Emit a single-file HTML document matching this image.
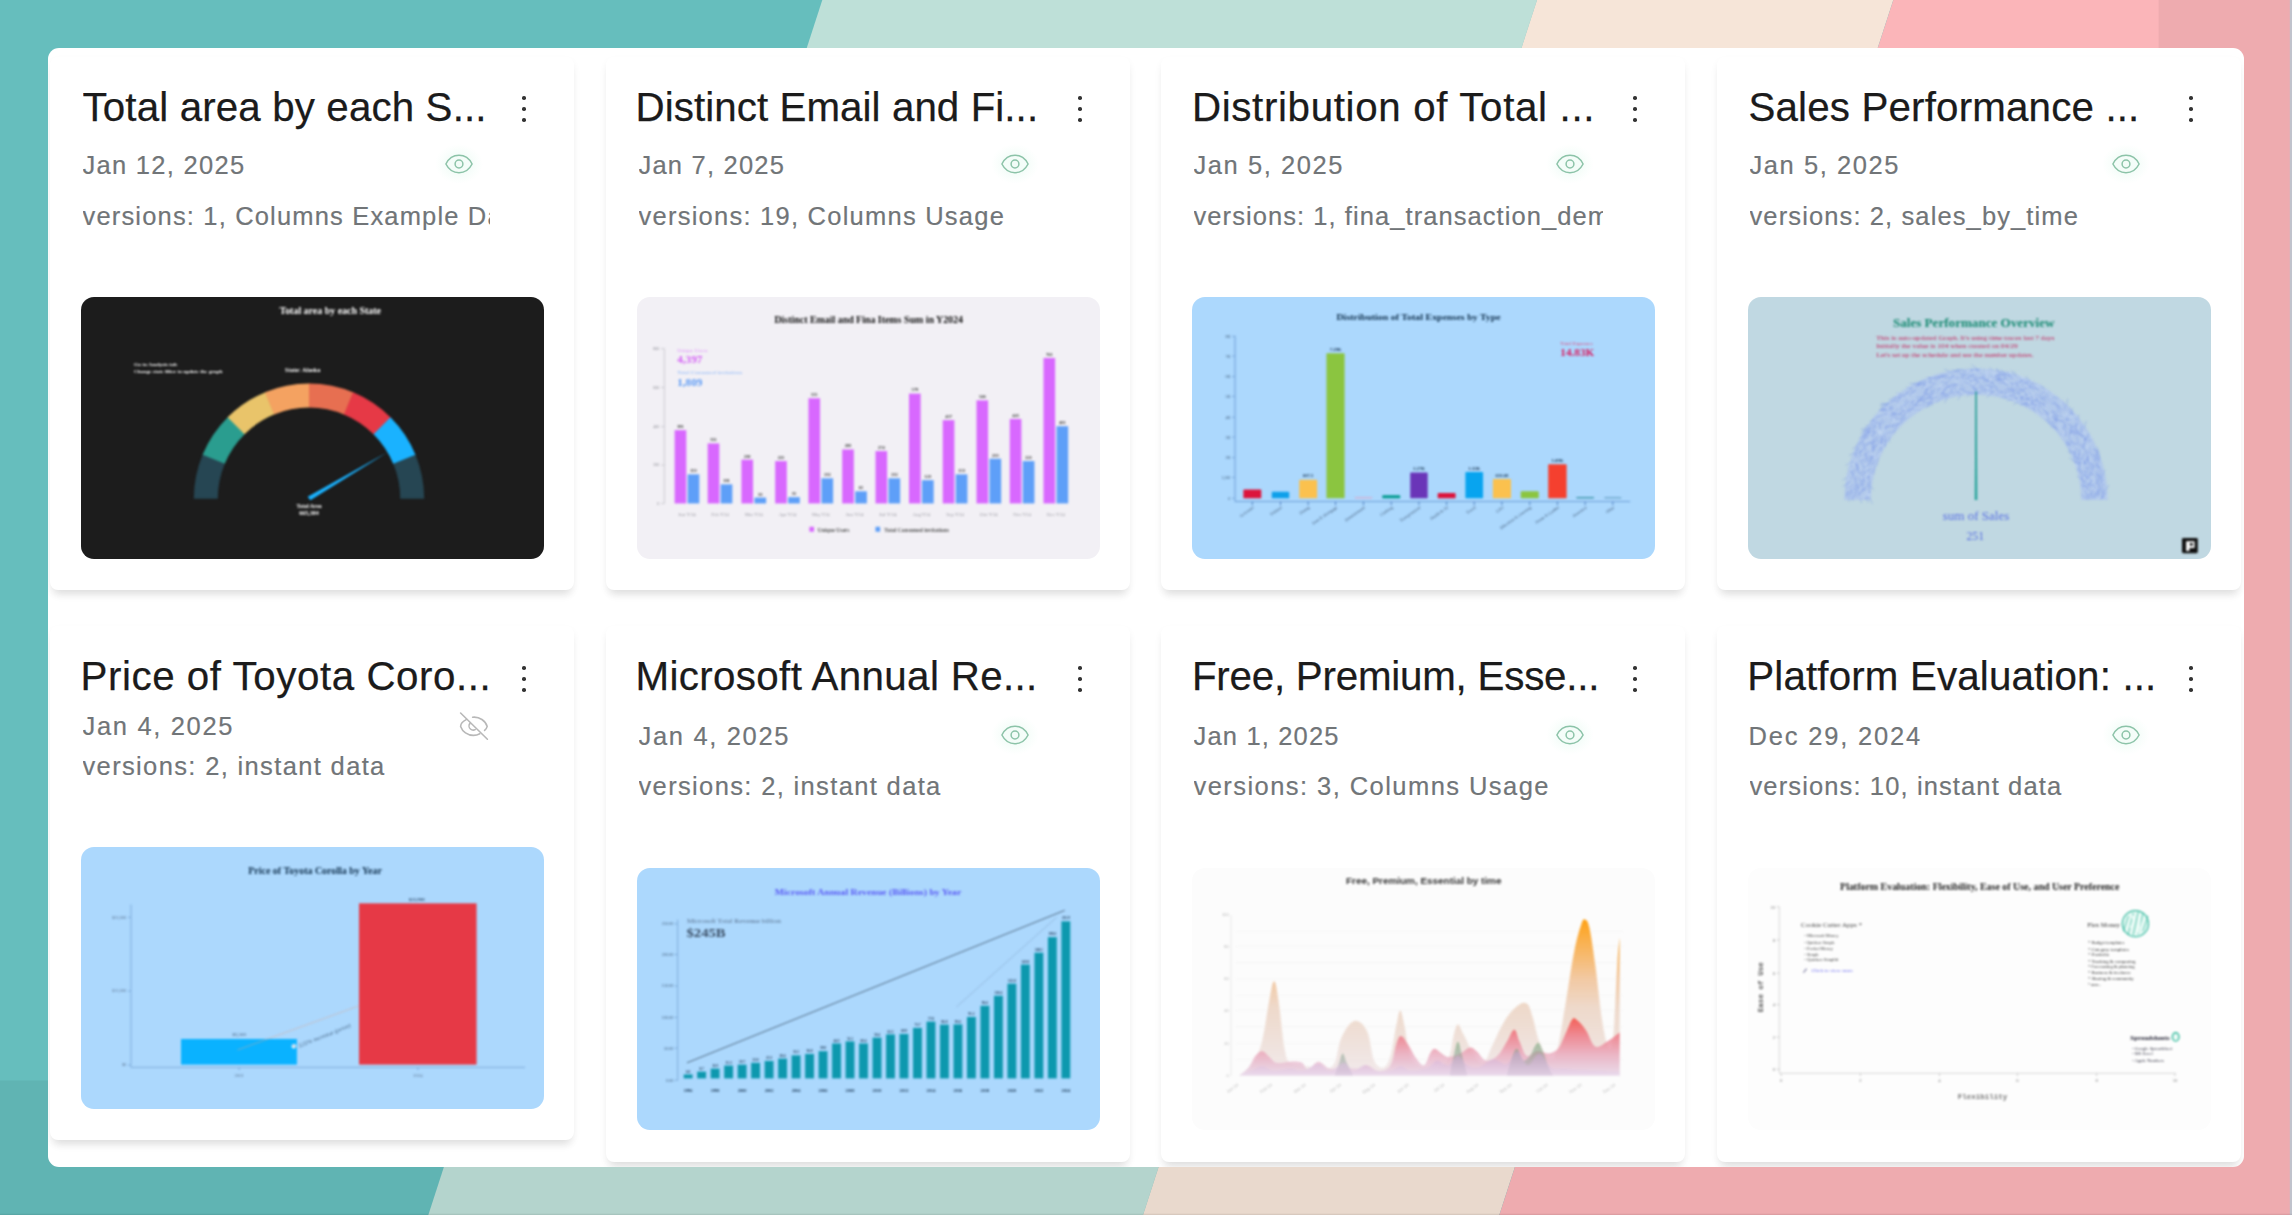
<!DOCTYPE html><html lang="en"><head><meta charset="utf-8"><title>Charts gallery</title><style>

*{box-sizing:border-box;margin:0;padding:0}
html,body{width:2292px;height:1216px;overflow:hidden;background:#66bebd}
body{position:relative;font-family:"Liberation Sans",sans-serif}
.bg{position:absolute;left:0;top:0}
.panel{position:absolute;left:48px;top:48px;width:2195.5px;height:1119px;background:#fff;border-radius:11px;overflow:hidden}
.card{position:absolute;background:#fff;border-radius:8px;box-shadow:0 9px 9px -4px rgba(0,0,0,.075),0 4px 8px -1px rgba(0,0,0,.07)}
.t{position:absolute;white-space:nowrap;overflow:hidden;line-height:60px;height:60px}
.title{font-size:39px;color:#1b1b1b;-webkit-text-stroke:.25px #1b1b1b}
.sub{font-size:24.5px;color:#717578;-webkit-text-stroke:.2px #717578}
.thumb{position:absolute;overflow:hidden;border-radius:13px}
.chart{position:absolute;display:block}
.ico{position:absolute;display:block}
.dots i{position:absolute;width:4.2px;height:4.2px;border-radius:42%;background:#333;left:.4px;margin-top:-.2px}
.dots{position:absolute;width:5px;height:30px}

</style></head><body>
<svg class="bg" width="2292" height="1216" viewBox="0 0 2292 1216"><defs><radialGradient id="halo"><stop offset="0" stop-color="#e6faf0" stop-opacity=".55"/><stop offset=".55" stop-color="#e8faf2" stop-opacity=".4"/><stop offset="1" stop-color="#eefcf5" stop-opacity="0"/></radialGradient></defs><rect width="2292" height="1216" fill="#66bebd"/><polygon points="822.3,0 1537.0,0 1142.7,1216 428.0,1216" fill="#bee0d8"/><polygon points="1537.0,0 1893.3,0 1499.0,1216 1142.7,1216" fill="#f6e5d8"/><polygon points="1893.3,0 3000.0,0 2605.7,1216 1499.0,1216" fill="#fbb5b9"/><path d="M0 1080.5H2158.6V0H2292V1216H0Z" fill="#000" fill-opacity="0.052"/><rect x="2289.8" y="0" width="2.2" height="1216" fill="#c0c3cc"/><rect x="0" y="1213.7" width="2292" height="1.3" fill="#000" fill-opacity="0.07"/><rect x="0" y="1215" width="2292" height="1" fill="#fff"/></svg>
<div class="panel"></div>
<div class="clip" style="position:absolute;left:48px;top:48px;width:2195.5px;height:1119px;overflow:hidden;border-radius:11px"><div style="position:absolute;left:-48px;top:-48px;width:2292px;height:1216px">
<div class="card" style="left:50.0px;top:57px;width:523.5px;height:533.0px"></div>
<div class="t title" style="left:82.50px;top:77.54px;font-size:40.3px;letter-spacing:0.138px">Total area by each S...</div>
<div class="t sub" style="left:82.50px;top:135.36px;font-size:25.5px;letter-spacing:1.285px">Jan 12, 2025</div>
<div class="t sub" style="left:82.50px;top:185.66px;width:407.7px;font-size:25.5px;letter-spacing:1.169px">versions: 1, Columns Example Data</div>
<svg class="ico" style="left:433.8px;top:142.9px" width="50" height="42" viewBox="0 0 50 42"><ellipse cx="25" cy="21" rx="24" ry="20" fill="url(#halo)"/><g fill="none" stroke="#8cc3a8" stroke-width="1.5" stroke-linejoin="round" style="filter:blur(.35px)"><path d="M11.9 21C14.6 15.6 19.4 12.3 25 12.3S35.4 15.6 38.1 21C35.4 26.4 30.6 29.7 25 29.7S14.6 26.4 11.9 21Z"/><circle cx="25" cy="21" r="3.9"/></g></svg>
<div class="dots" style="left:521.90px;top:96.30px"><i style="top:0.00px"></i><i style="top:10.90px"></i><i style="top:22.00px"></i></div>
<div class="card" style="left:606.0px;top:57px;width:523.5px;height:533.0px"></div>
<div class="t title" style="left:635.50px;top:77.54px;font-size:40.3px;letter-spacing:0.076px">Distinct Email and Fi...</div>
<div class="t sub" style="left:638.50px;top:135.36px;font-size:25.5px;letter-spacing:1.212px">Jan 7, 2025</div>
<div class="t sub" style="left:638.50px;top:185.66px;font-size:25.5px;letter-spacing:1.243px">versions: 19, Columns Usage</div>
<svg class="ico" style="left:989.8px;top:142.9px" width="50" height="42" viewBox="0 0 50 42"><ellipse cx="25" cy="21" rx="24" ry="20" fill="url(#halo)"/><g fill="none" stroke="#8cc3a8" stroke-width="1.5" stroke-linejoin="round" style="filter:blur(.35px)"><path d="M11.9 21C14.6 15.6 19.4 12.3 25 12.3S35.4 15.6 38.1 21C35.4 26.4 30.6 29.7 25 29.7S14.6 26.4 11.9 21Z"/><circle cx="25" cy="21" r="3.9"/></g></svg>
<div class="dots" style="left:1077.90px;top:96.30px"><i style="top:0.00px"></i><i style="top:10.90px"></i><i style="top:22.00px"></i></div>
<div class="card" style="left:1161.0px;top:57px;width:523.5px;height:533.0px"></div>
<div class="t title" style="left:1191.90px;top:77.54px;font-size:40.3px;letter-spacing:0.660px">Distribution of Total ...</div>
<div class="t sub" style="left:1193.50px;top:135.36px;font-size:25.5px;letter-spacing:1.572px">Jan 5, 2025</div>
<div class="t sub" style="left:1193.50px;top:185.66px;width:409px;font-size:25.5px;letter-spacing:1.068px">versions: 1, fina_transaction_demo</div>
<svg class="ico" style="left:1544.8px;top:142.9px" width="50" height="42" viewBox="0 0 50 42"><ellipse cx="25" cy="21" rx="24" ry="20" fill="url(#halo)"/><g fill="none" stroke="#8cc3a8" stroke-width="1.5" stroke-linejoin="round" style="filter:blur(.35px)"><path d="M11.9 21C14.6 15.6 19.4 12.3 25 12.3S35.4 15.6 38.1 21C35.4 26.4 30.6 29.7 25 29.7S14.6 26.4 11.9 21Z"/><circle cx="25" cy="21" r="3.9"/></g></svg>
<div class="dots" style="left:1632.90px;top:96.30px"><i style="top:0.00px"></i><i style="top:10.90px"></i><i style="top:22.00px"></i></div>
<div class="card" style="left:1717.0px;top:57px;width:523.5px;height:533.0px"></div>
<div class="t title" style="left:1748.50px;top:77.54px;font-size:40.3px;letter-spacing:0.167px">Sales Performance ...</div>
<div class="t sub" style="left:1749.50px;top:135.36px;font-size:25.5px;letter-spacing:1.572px">Jan 5, 2025</div>
<div class="t sub" style="left:1749.50px;top:185.66px;font-size:25.5px;letter-spacing:1.117px">versions: 2, sales_by_time</div>
<svg class="ico" style="left:2100.8px;top:142.9px" width="50" height="42" viewBox="0 0 50 42"><ellipse cx="25" cy="21" rx="24" ry="20" fill="url(#halo)"/><g fill="none" stroke="#8cc3a8" stroke-width="1.5" stroke-linejoin="round" style="filter:blur(.35px)"><path d="M11.9 21C14.6 15.6 19.4 12.3 25 12.3S35.4 15.6 38.1 21C35.4 26.4 30.6 29.7 25 29.7S14.6 26.4 11.9 21Z"/><circle cx="25" cy="21" r="3.9"/></g></svg>
<div class="dots" style="left:2188.90px;top:96.30px"><i style="top:0.00px"></i><i style="top:10.90px"></i><i style="top:22.00px"></i></div>
<div class="card" style="left:50.0px;top:626px;width:523.5px;height:514.2px"></div>
<div class="t title" style="left:80.50px;top:646.84px;font-size:40.3px;letter-spacing:0.557px">Price of Toyota Coro...</div>
<div class="t sub" style="left:82.50px;top:695.56px;font-size:25.5px;letter-spacing:1.672px">Jan 4, 2025</div>
<div class="t sub" style="left:82.50px;top:735.96px;font-size:25.5px;letter-spacing:1.353px">versions: 2, instant data</div>
<svg class="ico" style="left:458.4px;top:710.7px" width="32" height="30" viewBox="0 0 32 30"><g fill="none" stroke="#b8b8b8" stroke-width="1.6" stroke-linecap="round"><path d="M2.6 2L29.4 28.2"/><path d="M8.6 8.4C4.6 10.4 2.6 13.2 2.6 15.4C4.4 20.6 9.6 24.4 15.4 24.4C17.8 24.4 20 23.8 21.8 22.8"/><path d="M14.6 6.2C21.6 5.4 27.6 10 29.2 15.4C28.8 17 27.8 18.4 26.6 19.4"/><path d="M12 12.4C10.6 14 10.8 16.6 12.4 18C13.8 19.2 15.8 19.4 17.2 18.6"/></g></svg>
<div class="dots" style="left:521.90px;top:666.30px"><i style="top:0.00px"></i><i style="top:10.80px"></i><i style="top:22.00px"></i></div>
<div class="card" style="left:606.0px;top:626px;width:523.5px;height:536.4px"></div>
<div class="t title" style="left:635.50px;top:646.84px;font-size:40.3px;letter-spacing:0.362px">Microsoft Annual Re...</div>
<div class="t sub" style="left:638.50px;top:706.46px;font-size:25.5px;letter-spacing:1.672px">Jan 4, 2025</div>
<div class="t sub" style="left:638.50px;top:756.36px;font-size:25.5px;letter-spacing:1.353px">versions: 2, instant data</div>
<svg class="ico" style="left:989.8px;top:713.6px" width="50" height="42" viewBox="0 0 50 42"><ellipse cx="25" cy="21" rx="24" ry="20" fill="url(#halo)"/><g fill="none" stroke="#8cc3a8" stroke-width="1.5" stroke-linejoin="round" style="filter:blur(.35px)"><path d="M11.9 21C14.6 15.6 19.4 12.3 25 12.3S35.4 15.6 38.1 21C35.4 26.4 30.6 29.7 25 29.7S14.6 26.4 11.9 21Z"/><circle cx="25" cy="21" r="3.9"/></g></svg>
<div class="dots" style="left:1077.90px;top:666.30px"><i style="top:0.00px"></i><i style="top:10.80px"></i><i style="top:22.00px"></i></div>
<div class="card" style="left:1161.0px;top:626px;width:523.5px;height:536.4px"></div>
<div class="t title" style="left:1191.90px;top:646.84px;font-size:40.3px;letter-spacing:-0.211px">Free, Premium, Esse...</div>
<div class="t sub" style="left:1193.50px;top:706.46px;font-size:25.5px;letter-spacing:1.172px">Jan 1, 2025</div>
<div class="t sub" style="left:1193.50px;top:756.36px;font-size:25.5px;letter-spacing:1.444px">versions: 3, Columns Usage</div>
<svg class="ico" style="left:1544.8px;top:713.6px" width="50" height="42" viewBox="0 0 50 42"><ellipse cx="25" cy="21" rx="24" ry="20" fill="url(#halo)"/><g fill="none" stroke="#8cc3a8" stroke-width="1.5" stroke-linejoin="round" style="filter:blur(.35px)"><path d="M11.9 21C14.6 15.6 19.4 12.3 25 12.3S35.4 15.6 38.1 21C35.4 26.4 30.6 29.7 25 29.7S14.6 26.4 11.9 21Z"/><circle cx="25" cy="21" r="3.9"/></g></svg>
<div class="dots" style="left:1632.90px;top:666.30px"><i style="top:0.00px"></i><i style="top:10.80px"></i><i style="top:22.00px"></i></div>
<div class="card" style="left:1717.0px;top:626px;width:523.5px;height:536.4px"></div>
<div class="t title" style="left:1747.30px;top:646.84px;font-size:40.3px;letter-spacing:0.157px">Platform Evaluation: ...</div>
<div class="t sub" style="left:1748.50px;top:706.46px;font-size:25.5px;letter-spacing:1.827px">Dec 29, 2024</div>
<div class="t sub" style="left:1749.50px;top:756.36px;font-size:25.5px;letter-spacing:1.123px">versions: 10, instant data</div>
<svg class="ico" style="left:2100.8px;top:713.6px" width="50" height="42" viewBox="0 0 50 42"><ellipse cx="25" cy="21" rx="24" ry="20" fill="url(#halo)"/><g fill="none" stroke="#8cc3a8" stroke-width="1.5" stroke-linejoin="round" style="filter:blur(.35px)"><path d="M11.9 21C14.6 15.6 19.4 12.3 25 12.3S35.4 15.6 38.1 21C35.4 26.4 30.6 29.7 25 29.7S14.6 26.4 11.9 21Z"/><circle cx="25" cy="21" r="3.9"/></g></svg>
<div class="dots" style="left:2188.90px;top:666.30px"><i style="top:0.00px"></i><i style="top:10.80px"></i><i style="top:22.00px"></i></div>
<div class="thumb" style="left:80.71px;top:296.77px;width:463.12px;height:262.05px;background:#1c1c1c"><svg class="chart" style="left:-10.71px;top:-9.77px;filter:blur(0.9px);" width="485" height="283" viewBox="0 0 2084 1216"><path d="M532.0 910.0A495 495 0 0 1 570.7 718.2L665.6 758.1A392 392 0 0 0 635.0 910.0Z" fill="#264653"/><path d="M569.7 720.6A495 495 0 0 1 678.8 558.2L751.3 631.4A392 392 0 0 0 664.8 760.0Z" fill="#2a9d8f"/><path d="M677.0 560.0A495 495 0 0 1 840.0 451.7L878.9 547.1A392 392 0 0 0 749.8 632.8Z" fill="#e9c46a"/><path d="M837.6 452.7A495 495 0 0 1 1029.6 415.0L1029.1 518.0A392 392 0 0 0 877.0 547.8Z" fill="#f4a261"/><path d="M1027.0 415.0A495 495 0 0 1 1218.8 453.7L1178.9 548.6A392 392 0 0 0 1027.0 518.0Z" fill="#e76f51"/><path d="M1216.4 452.7A495 495 0 0 1 1378.8 561.8L1305.6 634.3A392 392 0 0 0 1177.0 547.8Z" fill="#e63946"/><path d="M1377.0 560.0A495 495 0 0 1 1485.3 723.0L1389.9 761.9A392 392 0 0 0 1304.2 632.8Z" fill="#1ab2ff"/><path d="M1484.3 720.6A495 495 0 0 1 1522.0 910.0L1419.0 910.0A392 392 0 0 0 1389.2 760.0Z" fill="#264653"/><path d="M1021 901L1362 711L1033 916Z" fill="#1ab2ff"/><text x="1118" y="116" font-size="44" fill="#fff" text-anchor="middle" font-weight="bold" font-family="'Liberation Serif',serif" textLength="436" lengthAdjust="spacingAndGlyphs" >Total area by each State</text><text x="275" y="338" font-size="21" fill="#fff" text-anchor="start" font-weight="bold" font-family="'Liberation Serif',serif" textLength="185" lengthAdjust="spacingAndGlyphs" >Go to Analysis tab</text><text x="275" y="371" font-size="21" fill="#fff" text-anchor="start" font-weight="bold" font-family="'Liberation Serif',serif" textLength="380" lengthAdjust="spacingAndGlyphs" >Change state filter to update the graph</text><text x="1000" y="365" font-size="24" fill="#fff" text-anchor="middle" font-weight="bold" font-family="'Liberation Serif',serif" textLength="152" lengthAdjust="spacingAndGlyphs" >State: Alaska</text><text x="1027" y="948" font-size="22" fill="#fff" text-anchor="middle" font-weight="bold" font-family="'Liberation Serif',serif" textLength="108" lengthAdjust="spacingAndGlyphs" >Total Area</text><text x="1027" y="981" font-size="22" fill="#fff" text-anchor="middle" font-weight="bold" font-family="'Liberation Serif',serif" textLength="84" lengthAdjust="spacingAndGlyphs" >665,384</text></svg></div>
<div class="thumb" style="left:636.71px;top:296.77px;width:463.12px;height:262.05px;background:#f2f0f5"><svg class="chart" style="left:-10.71px;top:-9.77px;filter:blur(0.9px);" width="485" height="283" viewBox="0 0 2084 1216"><text x="1043" y="156" font-size="42" fill="#111" text-anchor="middle" font-weight="bold" font-family="'Liberation Serif',serif" textLength="810" lengthAdjust="spacingAndGlyphs" >Distinct Email and Fina Items Sum in Y2024</text><path d="M165 265V930" stroke="#bdbdc4" stroke-width="3" fill="none"/><path d="M150 265H165" stroke="#bdbdc4" stroke-width="3"/><text x="143" y="271" font-size="17" fill="#8a8a92" text-anchor="end" font-weight="normal" font-family="'Liberation Serif',serif" >800</text><path d="M150 432H165" stroke="#bdbdc4" stroke-width="3"/><text x="143" y="438" font-size="17" fill="#8a8a92" text-anchor="end" font-weight="normal" font-family="'Liberation Serif',serif" >600</text><path d="M150 600H165" stroke="#bdbdc4" stroke-width="3"/><text x="143" y="606" font-size="17" fill="#8a8a92" text-anchor="end" font-weight="normal" font-family="'Liberation Serif',serif" >400</text><path d="M150 765H165" stroke="#bdbdc4" stroke-width="3"/><text x="143" y="771" font-size="17" fill="#8a8a92" text-anchor="end" font-weight="normal" font-family="'Liberation Serif',serif" >200</text><path d="M150 930H165" stroke="#bdbdc4" stroke-width="3"/><text x="143" y="936" font-size="17" fill="#8a8a92" text-anchor="end" font-weight="normal" font-family="'Liberation Serif',serif" >0</text><rect x="209" y="615" width="50" height="315" fill="#d868fe"/><text x="234" y="606" font-size="19" fill="#333" text-anchor="middle" font-weight="bold" font-family="'Liberation Serif',serif" >391</text><rect x="351" y="672" width="50" height="258" fill="#d868fe"/><text x="376" y="663" font-size="19" fill="#333" text-anchor="middle" font-weight="bold" font-family="'Liberation Serif',serif" >311</text><rect x="496" y="742" width="50" height="188" fill="#d868fe"/><text x="521" y="733" font-size="19" fill="#333" text-anchor="middle" font-weight="bold" font-family="'Liberation Serif',serif" >230</text><rect x="641" y="748" width="50" height="182" fill="#d868fe"/><text x="666" y="739" font-size="19" fill="#333" text-anchor="middle" font-weight="bold" font-family="'Liberation Serif',serif" >221</text><rect x="784" y="478" width="50" height="452" fill="#d868fe"/><text x="809" y="469" font-size="19" fill="#333" text-anchor="middle" font-weight="bold" font-family="'Liberation Serif',serif" >555</text><rect x="929" y="698" width="50" height="232" fill="#d868fe"/><text x="954" y="689" font-size="19" fill="#333" text-anchor="middle" font-weight="bold" font-family="'Liberation Serif',serif" >283</text><rect x="1072" y="705" width="50" height="225" fill="#d868fe"/><text x="1097" y="696" font-size="19" fill="#333" text-anchor="middle" font-weight="bold" font-family="'Liberation Serif',serif" >274</text><rect x="1216" y="458" width="50" height="472" fill="#d868fe"/><text x="1241" y="449" font-size="19" fill="#333" text-anchor="middle" font-weight="bold" font-family="'Liberation Serif',serif" >579</text><rect x="1361" y="572" width="50" height="358" fill="#d868fe"/><text x="1386" y="563" font-size="19" fill="#333" text-anchor="middle" font-weight="bold" font-family="'Liberation Serif',serif" >437</text><rect x="1506" y="487" width="50" height="443" fill="#d868fe"/><text x="1531" y="478" font-size="19" fill="#333" text-anchor="middle" font-weight="bold" font-family="'Liberation Serif',serif" >546</text><rect x="1649" y="567" width="50" height="363" fill="#d868fe"/><text x="1674" y="558" font-size="19" fill="#333" text-anchor="middle" font-weight="bold" font-family="'Liberation Serif',serif" >445</text><rect x="1794" y="305" width="50" height="625" fill="#d868fe"/><text x="1819" y="296" font-size="19" fill="#333" text-anchor="middle" font-weight="bold" font-family="'Liberation Serif',serif" >761</text><rect x="265" y="805" width="50" height="125" fill="#5e9ff8"/><text x="290" y="796" font-size="19" fill="#333" text-anchor="middle" font-weight="bold" font-family="'Liberation Serif',serif" >153</text><text x="262" y="982" font-size="20" fill="#9a9aa2" text-anchor="middle" font-weight="normal" font-family="'Liberation Serif',serif" textLength="76" lengthAdjust="spacingAndGlyphs" >Jan Y24</text><rect x="407" y="848" width="50" height="82" fill="#5e9ff8"/><text x="432" y="839" font-size="19" fill="#333" text-anchor="middle" font-weight="bold" font-family="'Liberation Serif',serif" >101</text><text x="404" y="982" font-size="20" fill="#9a9aa2" text-anchor="middle" font-weight="normal" font-family="'Liberation Serif',serif" textLength="76" lengthAdjust="spacingAndGlyphs" >Feb Y24</text><rect x="552" y="905" width="50" height="25" fill="#5e9ff8"/><text x="577" y="896" font-size="19" fill="#333" text-anchor="middle" font-weight="bold" font-family="'Liberation Serif',serif" >33</text><text x="549" y="982" font-size="20" fill="#9a9aa2" text-anchor="middle" font-weight="normal" font-family="'Liberation Serif',serif" textLength="76" lengthAdjust="spacingAndGlyphs" >Mar Y24</text><rect x="697" y="903" width="50" height="27" fill="#5e9ff8"/><text x="722" y="894" font-size="19" fill="#333" text-anchor="middle" font-weight="bold" font-family="'Liberation Serif',serif" >35</text><text x="694" y="982" font-size="20" fill="#9a9aa2" text-anchor="middle" font-weight="normal" font-family="'Liberation Serif',serif" textLength="76" lengthAdjust="spacingAndGlyphs" >Apr Y24</text><rect x="840" y="822" width="50" height="108" fill="#5e9ff8"/><text x="865" y="813" font-size="19" fill="#333" text-anchor="middle" font-weight="bold" font-family="'Liberation Serif',serif" >132</text><text x="837" y="982" font-size="20" fill="#9a9aa2" text-anchor="middle" font-weight="normal" font-family="'Liberation Serif',serif" textLength="76" lengthAdjust="spacingAndGlyphs" >May Y24</text><rect x="985" y="878" width="50" height="52" fill="#5e9ff8"/><text x="1010" y="869" font-size="19" fill="#333" text-anchor="middle" font-weight="bold" font-family="'Liberation Serif',serif" >65</text><text x="982" y="982" font-size="20" fill="#9a9aa2" text-anchor="middle" font-weight="normal" font-family="'Liberation Serif',serif" textLength="76" lengthAdjust="spacingAndGlyphs" >Jun Y24</text><rect x="1128" y="822" width="50" height="108" fill="#5e9ff8"/><text x="1153" y="813" font-size="19" fill="#333" text-anchor="middle" font-weight="bold" font-family="'Liberation Serif',serif" >132</text><text x="1125" y="982" font-size="20" fill="#9a9aa2" text-anchor="middle" font-weight="normal" font-family="'Liberation Serif',serif" textLength="76" lengthAdjust="spacingAndGlyphs" >Jul Y24</text><rect x="1272" y="830" width="50" height="100" fill="#5e9ff8"/><text x="1297" y="821" font-size="19" fill="#333" text-anchor="middle" font-weight="bold" font-family="'Liberation Serif',serif" >123</text><text x="1269" y="982" font-size="20" fill="#9a9aa2" text-anchor="middle" font-weight="normal" font-family="'Liberation Serif',serif" textLength="76" lengthAdjust="spacingAndGlyphs" >Aug Y24</text><rect x="1417" y="805" width="50" height="125" fill="#5e9ff8"/><text x="1442" y="796" font-size="19" fill="#333" text-anchor="middle" font-weight="bold" font-family="'Liberation Serif',serif" >153</text><text x="1414" y="982" font-size="20" fill="#9a9aa2" text-anchor="middle" font-weight="normal" font-family="'Liberation Serif',serif" textLength="76" lengthAdjust="spacingAndGlyphs" >Sep Y24</text><rect x="1562" y="738" width="50" height="192" fill="#5e9ff8"/><text x="1587" y="729" font-size="19" fill="#333" text-anchor="middle" font-weight="bold" font-family="'Liberation Serif',serif" >233</text><text x="1559" y="982" font-size="20" fill="#9a9aa2" text-anchor="middle" font-weight="normal" font-family="'Liberation Serif',serif" textLength="76" lengthAdjust="spacingAndGlyphs" >Oct Y24</text><rect x="1705" y="748" width="50" height="182" fill="#5e9ff8"/><text x="1730" y="739" font-size="19" fill="#333" text-anchor="middle" font-weight="bold" font-family="'Liberation Serif',serif" >221</text><text x="1702" y="982" font-size="20" fill="#9a9aa2" text-anchor="middle" font-weight="normal" font-family="'Liberation Serif',serif" textLength="76" lengthAdjust="spacingAndGlyphs" >Nov Y24</text><rect x="1850" y="598" width="50" height="332" fill="#5e9ff8"/><text x="1875" y="589" font-size="19" fill="#333" text-anchor="middle" font-weight="bold" font-family="'Liberation Serif',serif" >401</text><text x="1847" y="982" font-size="20" fill="#9a9aa2" text-anchor="middle" font-weight="normal" font-family="'Liberation Serif',serif" textLength="76" lengthAdjust="spacingAndGlyphs" >Dec Y24</text><text x="220" y="279" font-size="21" fill="#df8dfb" text-anchor="start" font-weight="normal" font-family="'Liberation Serif',serif" textLength="130" lengthAdjust="spacingAndGlyphs" >Unique Users</text><text x="220" y="325" font-size="42" fill="#d45ff5" text-anchor="start" font-weight="bold" font-family="'Liberation Serif',serif" textLength="108" lengthAdjust="spacingAndGlyphs" >4,397</text><text x="220" y="375" font-size="21" fill="#86b4f8" text-anchor="start" font-weight="normal" font-family="'Liberation Serif',serif" textLength="280" lengthAdjust="spacingAndGlyphs" >Total Consumed invitations</text><text x="220" y="424" font-size="42" fill="#5b9af5" text-anchor="start" font-weight="bold" font-family="'Liberation Serif',serif" textLength="108" lengthAdjust="spacingAndGlyphs" >1,809</text><rect x="788" y="1030" width="20" height="22" rx="3" fill="#d868fe"/><text x="824" y="1051" font-size="23" fill="#555" text-anchor="start" font-weight="bold" font-family="'Liberation Serif',serif" textLength="136" lengthAdjust="spacingAndGlyphs" >Unique Users</text><rect x="1072" y="1030" width="20" height="22" rx="3" fill="#5e9ff8"/><text x="1110" y="1051" font-size="23" fill="#555" text-anchor="start" font-weight="bold" font-family="'Liberation Serif',serif" textLength="278" lengthAdjust="spacingAndGlyphs" >Total Consumed invitations</text></svg></div>
<div class="thumb" style="left:1191.71px;top:296.77px;width:463.12px;height:262.05px;background:#acd8fd"><svg class="chart" style="left:-10.71px;top:-9.77px;filter:blur(0.9px);" width="485" height="283" viewBox="0 0 2084 1216"><text x="1021" y="140" font-size="34" fill="#12324f" text-anchor="middle" font-weight="bold" font-family="'Liberation Serif',serif" textLength="706" lengthAdjust="spacingAndGlyphs" >Distribution of Total Expenses by Type</text><path d="M232 210V922H1930" stroke="#6494d2" stroke-width="3.6" fill="none"/><path d="M218 212H232" stroke="#6f9bd0" stroke-width="3"/><text x="212" y="218" font-size="17" fill="#44607f" text-anchor="end" font-weight="normal" font-family="'Liberation Serif',serif" >8K</text><path d="M218 297H232" stroke="#6f9bd0" stroke-width="3"/><text x="212" y="303" font-size="17" fill="#44607f" text-anchor="end" font-weight="normal" font-family="'Liberation Serif',serif" >7K</text><path d="M218 385H232" stroke="#6f9bd0" stroke-width="3"/><text x="212" y="391" font-size="17" fill="#44607f" text-anchor="end" font-weight="normal" font-family="'Liberation Serif',serif" >6K</text><path d="M218 470H232" stroke="#6f9bd0" stroke-width="3"/><text x="212" y="476" font-size="17" fill="#44607f" text-anchor="end" font-weight="normal" font-family="'Liberation Serif',serif" >5K</text><path d="M218 560H232" stroke="#6f9bd0" stroke-width="3"/><text x="212" y="566" font-size="17" fill="#44607f" text-anchor="end" font-weight="normal" font-family="'Liberation Serif',serif" >4K</text><path d="M218 645H232" stroke="#6f9bd0" stroke-width="3"/><text x="212" y="651" font-size="17" fill="#44607f" text-anchor="end" font-weight="normal" font-family="'Liberation Serif',serif" >3K</text><path d="M218 733H232" stroke="#6f9bd0" stroke-width="3"/><text x="212" y="739" font-size="17" fill="#44607f" text-anchor="end" font-weight="normal" font-family="'Liberation Serif',serif" >2K</text><path d="M218 818H232" stroke="#6f9bd0" stroke-width="3"/><text x="212" y="824" font-size="17" fill="#44607f" text-anchor="end" font-weight="normal" font-family="'Liberation Serif',serif" >1,000</text><path d="M218 908H232" stroke="#6f9bd0" stroke-width="3"/><text x="212" y="914" font-size="17" fill="#44607f" text-anchor="end" font-weight="normal" font-family="'Liberation Serif',serif" >0</text><rect x="268" y="870" width="77" height="38" rx="4" fill="#dc143c"/><path d="M306.5 922V938" stroke="#4f7fc0" stroke-width="4"/><text x="314.5" y="950" font-size="18" fill="#48617f" text-anchor="end" font-family="'Liberation Serif',serif" transform="rotate(-35 314.5 950)">Groceries</text><rect x="390" y="880" width="75" height="28" rx="4" fill="#0fa0ea"/><path d="M427.5 922V938" stroke="#4f7fc0" stroke-width="4"/><text x="435.5" y="950" font-size="18" fill="#48617f" text-anchor="end" font-family="'Liberation Serif',serif" transform="rotate(-35 435.5 950)">Utilities</text><rect x="508" y="828" width="77" height="80" rx="4" fill="#fbc14e"/><path d="M546.5 922V938" stroke="#4f7fc0" stroke-width="4"/><text x="546.5" y="818" font-size="20" fill="#23405e" text-anchor="middle" font-weight="bold" font-family="'Liberation Serif',serif" >607.5</text><text x="554.5" y="950" font-size="18" fill="#48617f" text-anchor="end" font-family="'Liberation Serif',serif" transform="rotate(-35 554.5 950)">Dining</text><rect x="625" y="285" width="78" height="623" rx="4" fill="#8bc540"/><path d="M664.0 922V938" stroke="#4f7fc0" stroke-width="4"/><text x="664.0" y="275" font-size="20" fill="#23405e" text-anchor="middle" font-weight="bold" font-family="'Liberation Serif',serif" >7.29K</text><text x="672.0" y="950" font-size="18" fill="#48617f" text-anchor="end" font-family="'Liberation Serif',serif" transform="rotate(-35 672.0 950)">Rent &amp; Mortgage</text><rect x="745" y="904" width="78" height="4" rx="4" fill="#f48fb1"/><path d="M784.0 922V938" stroke="#4f7fc0" stroke-width="4"/><text x="792.0" y="950" font-size="18" fill="#48617f" text-anchor="end" font-family="'Liberation Serif',serif" transform="rotate(-35 792.0 950)">Entertainment</text><rect x="865" y="895" width="77" height="13" rx="4" fill="#009a8e"/><path d="M903.5 922V938" stroke="#4f7fc0" stroke-width="4"/><text x="911.5" y="950" font-size="18" fill="#48617f" text-anchor="end" font-family="'Liberation Serif',serif" transform="rotate(-35 911.5 950)">Clothing</text><rect x="985" y="797" width="75" height="111" rx="4" fill="#6a35b8"/><path d="M1022.5 922V938" stroke="#4f7fc0" stroke-width="4"/><text x="1022.5" y="787" font-size="20" fill="#23405e" text-anchor="middle" font-weight="bold" font-family="'Liberation Serif',serif" >1.27K</text><text x="1030.5" y="950" font-size="18" fill="#48617f" text-anchor="end" font-family="'Liberation Serif',serif" transform="rotate(-35 1030.5 950)">Transportation</text><rect x="1103" y="885" width="77" height="23" rx="4" fill="#dc143c"/><path d="M1141.5 922V938" stroke="#4f7fc0" stroke-width="4"/><text x="1149.5" y="950" font-size="18" fill="#48617f" text-anchor="end" font-family="'Liberation Serif',serif" transform="rotate(-35 1149.5 950)">Health &amp; Fit</text><rect x="1222" y="795" width="76" height="113" rx="4" fill="#08a4ef"/><path d="M1260.0 922V938" stroke="#4f7fc0" stroke-width="4"/><text x="1260.0" y="785" font-size="20" fill="#23405e" text-anchor="middle" font-weight="bold" font-family="'Liberation Serif',serif" >1.32K</text><text x="1268.0" y="950" font-size="18" fill="#48617f" text-anchor="end" font-family="'Liberation Serif',serif" transform="rotate(-35 1268.0 950)">Travel</text><rect x="1340" y="825" width="78" height="83" rx="4" fill="#fbc14e"/><path d="M1379.0 922V938" stroke="#4f7fc0" stroke-width="4"/><text x="1379.0" y="815" font-size="20" fill="#23405e" text-anchor="middle" font-weight="bold" font-family="'Liberation Serif',serif" >650.68</text><text x="1387.0" y="950" font-size="18" fill="#48617f" text-anchor="end" font-family="'Liberation Serif',serif" transform="rotate(-35 1387.0 950)">Gifts</text><rect x="1460" y="878" width="77" height="30" rx="4" fill="#8bc540"/><path d="M1498.5 922V938" stroke="#4f7fc0" stroke-width="4"/><text x="1506.5" y="950" font-size="18" fill="#48617f" text-anchor="end" font-family="'Liberation Serif',serif" transform="rotate(-35 1506.5 950)">Education &amp; Learning</text><rect x="1578" y="762" width="79" height="146" rx="4" fill="#f5402f"/><path d="M1617.5 922V938" stroke="#4f7fc0" stroke-width="4"/><text x="1617.5" y="752" font-size="20" fill="#23405e" text-anchor="middle" font-weight="bold" font-family="'Liberation Serif',serif" >1.69K</text><text x="1625.5" y="950" font-size="18" fill="#48617f" text-anchor="end" font-family="'Liberation Serif',serif" transform="rotate(-35 1625.5 950)">Home &amp; Garden</text><rect x="1698" y="903" width="77" height="5" rx="4" fill="#147d8c"/><path d="M1736.5 922V938" stroke="#4f7fc0" stroke-width="4"/><text x="1744.5" y="950" font-size="18" fill="#48617f" text-anchor="end" font-family="'Liberation Serif',serif" transform="rotate(-35 1744.5 950)">Insurance</text><rect x="1818" y="905" width="75" height="3" rx="4" fill="#3b7ea1"/><path d="M1855.5 922V938" stroke="#4f7fc0" stroke-width="4"/><text x="1863.5" y="950" font-size="18" fill="#48617f" text-anchor="end" font-family="'Liberation Serif',serif" transform="rotate(-35 1863.5 950)">Other</text><text x="1630" y="248" font-size="19" fill="#e0457b" text-anchor="start" font-weight="normal" font-family="'Liberation Serif',serif" textLength="138" lengthAdjust="spacingAndGlyphs" >Total Expenses</text><text x="1630" y="297" font-size="42" fill="#d81b60" text-anchor="start" font-weight="bold" font-family="'Liberation Serif',serif" textLength="146" lengthAdjust="spacingAndGlyphs" >14.83K</text></svg></div>
<div class="thumb" style="left:1747.71px;top:296.77px;width:463.12px;height:262.05px;background:#c0d8e2"><svg class="chart" style="left:-10.71px;top:-9.77px;filter:blur(0.9px);" width="485" height="283" viewBox="0 0 2084 1216"><path d="M461 915A566 566 0 0 1 1593 915L1479 915A452 452 0 0 0 575 915Z" fill="#a9c0f0" fill-opacity=".62"/><path d="M1275 513l-8 -30M971 423l-15 2M1525 856l9 -13M1155 387l-13 -12M810 403l-28 6M567 881l-16 33M1448 710l-19 -11M1463 637l-10 -29M958 458l-14 -6M758 492l-17 15M1098 432l-34 7M1399 556l-27 -4M706 549l-39 1M1163 396l-17 -5M1550 850l-9 -33M575 728l-7 31M902 426l-18 31M1070 390l-15 4M777 413l-35 3M1212 422l-13 -6M1432 679l-13 -8M1470 724l-21 -11M1515 789l-23 -17M565 621l-14 16M1263 419l-19 -34M1436 662l-10 -17M893 450l-14 2M1233 442l-39 -3M1002 394l-23 -22M515 748l8 36M1192 445l-17 -2M1481 825l8 -18M1249 510l-6 -13M1497 760l-12 -8M862 473l-20 2M1221 488l-32 16M1081 411l-11 -12M1257 489l-16 -32M1582 875l15 -23M965 460l-15 23M545 694l-13 16M1492 646l-24 -14M1272 502l-33 12M543 673l-1 35M1414 581l3 -23M1511 872l-9 -19M528 846l26 28M537 845l-12 16M1416 638l-29 -7M583 671l1 31M1534 777l-26 -27M669 557l-5 18M1299 447l-30 -26M1197 385l-20 -26M1462 732l-31 -22M1514 674l-27 -29M1260 457l-4 -17M504 867l18 21M1140 378l-26 -24M1369 569l-16 -12M1370 551l-17 -0M1251 463l-28 8M1164 379l-27 -5M993 458l-22 -12M1568 908l1 -18M692 524l-17 15M934 384l-16 5M1372 573l-24 -24M924 388l-38 3M851 437l-21 18M1103 408l-21 16M705 470l-38 7M924 369l-32 -16M1494 728l1 -16M1540 795l-28 -20M1498 667l5 -31M506 714l9 18M1187 433l-38 11M1466 671l-6 -27M1427 632l8 -32M942 420l-14 -2M833 443l-5 15M587 570l-15 8M1561 848l11 -18M1161 379l-27 -22M1521 665l-21 -19M1471 787l-5 -32M1568 790l-21 -22M1555 773l-12 -10M1098 428l-23 17M1340 565l-10 -26M1472 756l3 -15M1299 509l-19 -28M1027 440l-15 -18M1350 591l-25 -21M1446 631l4 -38M604 645l1 27M1195 434l-27 16M1285 436l-31 -8M1172 444l-9 -13M1548 797l8 -19M1553 772l-20 -31M1332 542l-16 -15M1470 676l-20 -5M515 871l14 15M1305 507l-10 -10M1068 407l-19 -1M1511 907l3 -16M1481 855l8 -21M891 421l-29 18M682 487l-23 9M556 892l7 32M1566 840l-13 -35M664 513l-13 12M1020 371l-29 20M883 383l-26 18M1372 611l-8 -16M1542 739l-15 -24M823 428l-23 -13M596 597l-15 23M805 509l-33 2M1498 803l10 -32M644 507l-23 14M1062 388l-34 5M826 497l-18 0M689 562l-29 -3M1503 823l-16 -27M772 500l-24 13M1076 449l-30 -22M473 877l-2 14M555 616l-21 14M1467 574l-14 -13M1489 695l8 -38M596 642l-7 36M1439 549l3 -26M1535 909l9 -24M1472 704l-19 -11M1563 912l22 -28M510 793l-21 31M1221 457l-39 -10M1239 461l-7 -20M1544 744l-19 -10M1370 573l-6 -27M1243 401l-36 6M806 408l-34 18M733 559l-27 19M653 547l-21 -0M570 808l-13 23M1344 485l-19 -34M797 485l-27 8M1436 678l-18 -6M1031 436l-24 29M1101 450l-12 -15M1249 506l-12 -16M908 378l-33 2M1164 422l-20 -13M1503 821l18 -35M1021 392l-32 -17M1345 552l-17 -18M487 836l-31 20M1555 861l-2 -37M904 476l-12 21M560 630l-33 21M1472 756l-17 -22M503 818l9 30M1096 405l-14 5M1439 546l-11 -29M1471 726l-21 -22M1462 755l-13 -24M1192 465l-10 -28M1322 505l-36 -14M554 734l-15 14M500 850l-18 12M1030 388l-23 -11M749 436l-19 -6M1271 478l-16 -28M598 597l-25 11M540 869l-19 30M1439 571l-22 -1M1033 439l-20 -3M751 432l-17 6M1466 568l2 -18M1516 822l-29 -24M652 497l-35 16M1491 609l9 -32M782 484l-23 5M1420 684l-6 -21M562 850l-24 31M1263 426l-30 -19M1527 837l-19 -15M1433 633l9 -36M1177 394l-15 -30M1487 864l12 -36M641 522l-21 8M510 846l5 20M1292 508l-14 -2M522 779l-35 17M1403 576l-39 -1M1195 463l-23 -9M564 809l7 34M570 631l-23 19M1292 498l-8 -33M1463 604l3 -20M1539 860l-19 -13M503 714l-19 9M1513 763l-7 -32M1398 579l-26 -15M644 527l-31 3M599 681l-19 21M703 565l-20 6M1514 660l-5 -29M1207 383l-19 -20M594 618l-38 10M1070 374l-28 22M1510 853l7 -16M511 871l-12 36M567 709l2 21M567 836l1 29M1411 602l-3 -17M1389 542l-8 -30M1517 897l16 -27M1293 518l-30 -17M1485 823l-7 -23M830 493l-13 13M1163 448l-19 11M1314 486l-17 -16M516 683l-19 13M713 555l-2 14M1156 388l-22 11M1085 445l-14 -0M791 416l-13 10M1228 447l-12 -13M990 362l-17 1M570 594l-18 5M477 815l-22 15M543 801l-1 38M624 667l-30 17M1188 394l-23 -27M1413 600l-13 -24M1474 733l-29 -15M1538 849l22 -26M618 687l-12 27M837 465l-21 13M1149 403l-24 -9M1547 877l10 -25M630 551l-25 6M1066 449l-17 -4M1509 772l14 -23M834 492l-20 26M1010 454l-27 -5M562 843l24 27M666 511l0 19M1041 358l-31 -22M590 573l-13 9M686 587l-34 15M633 657l5 27M1411 620l-9 -26M1499 860l-14 -11M732 450l-9 16M1506 734l-3 -30M553 715l8 28M1558 734l-4 -30M637 628l-19 35M1255 429l-13 -22M708 582l-34 11M790 407l-22 20M1280 536l-5 -14M848 446l-13 24M1466 722l13 -28M1521 911l4 -16M1422 580l-5 -29M835 447l-7 16M1367 588l-14 -9M532 703l-18 17M1551 896l7 -28M805 464l-25 30M1419 527l-11 -10M1167 455l-15 3M1541 895l22 -32M1449 610l-21 -17M632 652l-18 13M1571 831l-18 -29M1572 904l1 -33M680 550l-20 1M1370 608l-21 -9M713 469l-32 6M943 420l-34 7M1379 527l-12 -37M601 747l-16 14M641 514l-30 15M571 735l7 19M816 430l-9 30M1079 372l-27 17M1131 393l-25 -15M1437 593l-16 -3M1439 714l-16 -6M1248 499l-4 -14M729 485l-16 28M1535 809l-16 -17M563 619l1 16M491 767l-12 12M1459 757l-29 -22M805 419l-30 1M1471 771l7 -33M1297 493l-8 -12M1363 502l-13 -20M521 858l4 36M1524 866l-14 -21M1273 445l-15 -23M604 720l-30 18M1504 913l-26 -22M1535 908l-14 -23M1452 637l-21 -9M1407 509l-6 -20M729 503l-11 13M1549 779l-22 -23M834 461l-24 5M589 758l-35 13M1413 623l-23 -30M1230 404l-18 -9M974 382l-31 12M1252 479l-18 3M766 448l-17 7M635 577l-12 12M577 745l-12 14M702 477l-18 0M1377 571l-5 -27M1272 507l-39 -5M1557 740l-2 -17M487 888l-6 33M1454 612l-1 -17M1185 483l-24 4M736 497l-26 16M1496 691l-19 -16M546 772l5 29M1145 449l-30 14M625 569l-14 33M810 460l-17 14M1504 764l-22 -26M836 472l-24 8M841 452l-13 29M1468 629l-13 -32M1045 356l-15 1M1499 654l-20 -33M1518 754l-18 -21M1007 392l-35 3M1182 380l-19 1M1205 408l-15 9M1230 500l-17 -13M1527 894l-10 -23M1244 482l-20 -1M524 819l7 18M1186 464l-17 3M595 620l-12 23M1450 551l-19 -13M570 622l-21 15M956 451l-35 -4M595 696l-19 15M1136 452l-14 2M1333 542l-16 -14M1144 405l-28 -14M494 794l6 14M511 758l5 17M841 497l-5 13M800 489l-16 -3M1427 554l-2 -23M511 755l7 17M847 407l-16 27M598 578l-6 18M975 383l-18 18M944 438l-18 -9M1037 453l-21 -16M1041 406l-23 16M1572 904l-3 -26M756 442l-22 9M567 858l4 30M1546 868l-24 -21M1311 433l-23 -14M591 770l-3 33M1293 437l-20 -12M984 379l-19 -1M1151 415l-29 -21M599 658l-22 16M1016 356l-27 16M1275 493l-20 -8M805 424l-10 11M546 734l-10 12M1503 906l-8 -37M770 441l-29 24M840 427l-28 17M769 512l-28 15M684 598l-19 -0M607 555l-25 18M569 630l-24 16M1319 508l-16 -15M788 414l-13 8M1492 857l-9 -34M540 788l-6 13M869 383l-38 10M1154 466l-22 -22M1434 705l-10 -10M1545 707l-14 -8M1448 735l2 -33M708 562l-5 14M687 487l-33 -3M818 427l-10 24M1417 515l3 -33M1551 891l23 -27M1325 473l-18 1M1047 453l-23 2M1128 397l-17 6M1245 438l-25 -17M1216 410l-38 6M926 439l-8 14M703 478l-15 17M484 876l-12 27M1149 379l-24 3M854 392l-35 -2M1511 912l-4 -25M566 614l0 15M572 610l-24 16M544 671l9 31M1242 503l-28 2M1460 600l-6 -38M853 417l-26 -5M1400 531l-23 -26M1548 768l7 -33M891 381l-35 11M1065 398l-15 -11M1474 630l-15 -18M1181 428l-8 -16M531 911l4 16M656 622l-24 17M999 458l-9 12M564 708l-22 19M642 595l-8 38M557 614l-20 3M1411 635l3 -16M929 376l-14 22M583 786l-13 26M1546 710l-10 -18M789 411l-30 8M1103 448l-29 26M1380 620l-9 -19M501 749l-32 16M611 585l6 30M1491 833l-28 -19M770 501l-15 25M1491 756l7 -19M1055 442l-15 -13M785 527l-33 0M1578 852l-15 -12M524 691l-9 15M1556 749l-18 -31M1100 428l-35 -7M842 482l-18 -8M707 512l-4 17M1362 544l-7 -16M597 678l-9 16M1325 451l-16 5M1569 817l11 -30M1061 430l-17 -12M1259 404l-38 13M1491 768l18 -33M709 546l-39 -6M623 635l-18 1M585 658l-11 15M566 784l-23 17M1481 627l-1 -32M1478 800l-7 -29M1339 553l-28 -10M597 626l-19 4M694 543l-33 -2M620 640l2 36M1037 457l-38 -2M581 726l4 18M1219 482l-23 -6M1538 908l-1 -26M1521 718l-30 -18M1310 465l-24 -3M1565 810l-7 -38M1006 403l-19 -20M550 866l-14 13M1410 531l-1 -15M748 528l-10 10M905 418l-29 -15M539 703l-13 7M1037 406l-16 -14M1164 465l-28 10M1489 684l5 -33M553 626l-15 19M579 668l7 23M651 598l-17 11M1140 366l-30 18M571 615l-8 13M477 842l-6 20M827 463l-26 -10M1133 417l-9 -11M491 864l6 38M573 605l-37 5M819 478l-32 1M954 366l-29 -9M995 414l-37 -12M1328 485l-15 -7M521 845l-4 21M977 446l-15 -9M1328 517l-10 -19M1521 775l-16 -32M912 403l-16 11M1090 405l-29 -5M1297 516l-17 -11M1213 431l-12 -8M590 713l-12 26M1378 478l-21 -4M1434 694l-14 -34M1515 819l-15 -21M1479 754l-27 -28M1462 686l-17 -16M832 405l-33 14M662 524l-26 22M613 583l-37 8M608 735l-8 33M1031 357l-29 -4M600 570l-23 19M1102 416l-28 -16M1200 430l-19 -15M599 576l-19 19M1436 648l-12 -13M909 465l-38 -2M547 658l-33 20M1154 377l-7 -12M924 417l-29 24M959 357l-27 4M754 500l-17 16M1278 418l-29 -13M1499 763l-10 -22M900 381l-38 8M1125 402l-36 -18M976 375l-18 -4M485 878l-19 20M527 743l19 30M557 743l-12 13M1008 406l-16 -10M820 438l-6 22M836 496l-14 20M1329 480l-8 -12M571 668l-27 16M1030 400l-20 5M972 356l-29 -2M1466 739l11 -32M1478 768l-22 -17M839 407l-14 -8M659 591l-27 18M1444 669l-16 -5M901 438l-26 1M1569 821l-25 -16M1125 403l-11 -17M493 797l11 19M618 648l7 29M1035 358l-20 -4M723 544l-5 22M1053 376l-16 -12M1232 486l-27 -29M937 456l-28 -0M1166 473l-17 5M1244 485l-12 -14M1365 603l-14 -28M1495 665l-1 -16M619 682l2 25M640 643l-5 23M1237 399l-18 8M1020 435l-21 -16M735 530l-26 27M1221 474l-18 -24M595 732l-9 26M1382 511l-22 -10M924 437l-21 -12M1491 627l-17 -15M1513 742l-8 -22M1303 543l-9 -20M1518 710l-5 -21M511 763l13 35M1471 719l-10 -11M784 485l-17 18M744 524l-34 13M840 478l-7 15M670 521l-15 -1M1444 683l-6 -21M1512 855l13 -28M575 665l-26 19M1134 397l-10 -21M560 647l-21 5M560 685l-12 9M1534 730l-17 -9M699 586l-27 18M645 528l-21 1M533 831l7 38M656 517l-24 19M1549 825l-5 -25M569 810l-29 17M705 480l-16 14M506 865l-15 24M1512 823l8 -23M1291 525l-31 -9M1380 588l-17 -22M544 816l10 19M1492 693l-19 -12M946 385l-17 8M873 434l-21 27M1483 744l4 -23M1504 823l-10 -16M1103 453l-22 -5M1225 484l-4 -15M492 902l6 15M512 883l-1 17M1125 449l-13 -25M519 784l15 26M804 487l-20 -3M1563 868l10 -34M1464 627l-35 -8M1492 643l-29 -20M1273 508l-23 -27M1233 444l-23 4M1363 601l-24 -16M579 630l9 37M1036 406l-17 -7M910 465l-30 -11M1126 365l-9 -14M1117 447l-15 -29M547 653l-20 28M1358 506l-19 -20M1271 476l-31 3M575 774l-9 20M930 432l-16 -10M1293 486l-39 7M517 686l-8 38M644 656l-12 29M1334 500l-30 -24M809 479l-9 21M1501 873l0 -32M1534 776l-10 -22M1160 420l-26 -12M1472 748l-16 -34M1541 726l8 -19M980 435l-26 5M1418 578l-11 -13M900 468l-22 -12M1130 377l-28 6M689 591l-14 37M1543 743l6 -23M515 850l-24 24M675 616l-16 12M1545 890l6 -19M723 517l-24 28M552 713l10 37M1489 646l-19 -12M735 457l-16 6M650 506l-33 -2M878 473l-18 22M1547 722l3 -31M1440 628l-24 -26M1456 755l-13 -11M1457 632l-17 -13M1199 476l-35 -11M723 467l-37 -11M1251 500l-27 5M655 645l-1 19M761 494l-26 -1M587 682l-10 35M1504 799l-16 -11M900 472l-18 1M1079 400l-23 -9M1544 905l17 -15M1098 359l-11 -11M779 498l-18 11M1378 536l-28 2M568 904l13 26M532 705l-5 30M1230 474l-34 8M509 814l6 21M678 543l-27 14M948 422l-15 -2M1323 439l-19 -19M1374 582l-3 -23M1575 903l2 -26M922 438l-16 -10M1312 518l-28 -17M544 819l-2 38M1487 797l-26 -12M1261 430l-25 5M1523 808l7 -37M1343 583l-7 -17M740 531l-24 3M853 396l-30 -7M653 501l-30 -1M574 606l-22 7M1453 629l-27 -24M562 800l5 22M802 470l-31 6M1519 825l-6 -14" stroke="#7f9ce6" stroke-width="3" stroke-opacity=".7" fill="none" stroke-linecap="round"/><path d="M1280 474l14 -14M1080 459l-5 -24M564 897l-13 -15M1266 513l11 -5M679 603l5 -22M964 401l-9 -17M873 448l15 -16M697 493l13 -19M606 550l11 -13M986 363l12 -0M1067 392l9 -20M546 899l21 -6M1497 874l-0 -11M945 446l10 -23M1452 700l-21 -5M1429 690l16 -16M519 887l9 -18M618 619l-14 -5M1530 738l-5 -10M1193 395l-2 -11M1181 385l-10 -23M1396 602l3 -14M1385 597l-10 -20M1358 464l-3 -13M1508 657l16 -18M642 534l7 -13M1052 367l-7 -11M875 434l-18 -7M1460 579l-12 -10M594 717l-24 -0M1300 545l-12 -1M1578 899l-8 -9M1480 772l20 -6M1293 432l-20 -8M567 886l-11 -8M768 533l13 -12M1129 457l-10 -0M1326 456l0 -12M1484 707l-7 -11M1504 676l17 -6M1253 459l11 -22M1461 567l-16 -18M1338 555l14 -3M1532 846l-3 -16M1219 498l-10 -19M956 406l-21 -1M537 710l9 -14M1167 376l6 -15M1159 461l26 -0M843 394l-5 -13M1209 468l12 -5M553 660l24 -4M746 513l-3 -20M1332 449l-7 -7M570 688l-19 -0M1414 564l8 -20M719 523l-6 -17M768 498l-3 -20M1425 579l-14 -4M1072 385l1 -18M1390 612l-2 -25M989 405l17 -16M1491 636l-7 -16M557 632l24 -3M1225 409l21 -9M1455 690l5 -10M610 619l17 -5M1207 385l3 -21M1064 377l20 -10M761 497l13 -12M1222 462l16 -1M1444 610l9 -6M719 539l11 -10M622 682l-18 -9M1431 618l-8 -21M1209 490l7 -16M725 532l-7 -15M618 638l-4 -16M563 803l-16 -20M1232 431l15 -3M669 571l0 -18M517 752l-3 -10M1086 413l6 -23M1072 368l0 -17M1007 373l-14 -15M1167 475l-4 -21M625 559l9 -8M1553 785l11 -3M659 554l-6 -9M715 515l-6 -9M1159 415l-22 -14M592 730l-1 -15M1586 904l10 -11M1295 512l-4 -23M1010 414l6 -9M534 696l16 -17M1400 640l7 -17M1084 410l8 -18M639 636l-4 -24M1511 837l5 -18M928 434l-12 -9M1350 494l-7 -22M1106 367l-16 -6M1521 824l20 -3M604 720l16 -10M527 791l0 -23M753 465l12 -9M614 685l20 -15M1471 769l-22 -3M1166 409l-14 -4M766 520l-6 -9M1566 844l11 -10M902 441l17 -9M555 781l21 -11M576 586l16 -2M1220 428l-2 -13M1511 769l5 -21M777 518l22 -9M484 781l-2 -25M1329 524l0 -22M571 813l-16 -7M872 426l10 -5M1389 502l18 -15M579 807l-19 -2M1287 426l20 -3M1279 479l-10 -10M1483 628l14 -3M941 455l-15 -12M878 433l-0 -11M1527 757l-3 -12M1248 471l18 -10M1504 633l-13 -7M560 719l12 -4M591 741l-2 -18M1499 732l-1 -13M1016 420l4 -13M1405 634l-13 -5M1024 366l-10 -2M1047 377l-11 -16M1429 562l8 -9M1523 867l11 -15M588 758l14 -13M868 401l21 -4M1399 553l26 -3M835 422l11 -20M609 632l25 -1M536 822l16 -5M1410 544l19 -10M1249 498l10 -8M1309 434l-21 -16M1059 407l-22 -6M656 547l-5 -12M551 664l-7 -9M1244 493l-13 -22M698 577l-23 -5M517 758l-19 -14M886 433l-18 -15M578 722l-3 -25M564 836l-20 -16M1409 528l11 -8M1091 437l-17 -5M735 472l-13 -10M606 596l-21 -13M1163 468l-18 -10M1277 461l-19 -14M1535 908l10 -3M611 637l3 -20M1264 498l-14 -7M848 461l8 -9M730 509l-17 -12M1517 720l-9 -6M1434 649l11 -23M1445 560l-19 -6M1193 434l-1 -25M550 898l20 -11M988 459l-13 -2M1104 380l6 -13M1516 755l-1 -24M1236 403l-12 -21M1534 792l-17 -2M1248 438l8 -19M990 389l0 -25M1258 408l-9 -5M746 483l-12 -12M526 736l22 -2M1273 512l-24 -8M1492 688l19 -3M1204 411l13 -16M669 584l5 -18M504 879l-12 -19M1231 398l-12 -18M1332 552l-16 -10M634 617l-1 -12M587 737l19 -11M1285 530l5 -14M474 857l7 -11M556 831l3 -15M1484 753l6 -15M545 860l-13 -4M1112 378l-16 -13M1287 519l2 -22M930 398l14 -17M1258 414l11 -15M834 470l22 -3M586 648l-15 -3M1351 557l-2 -11M650 547l-14 -9M1487 747l-20 -2M811 433l7 -21M503 816l5 -15M622 632l-12 -5M976 406l-20 -6M1477 714l3 -11M1023 370l-5 -20M1181 422l-13 -7M599 580l-6 -11M662 560l-23 -8M652 524l-19 -8M1512 703l-7 -20M1329 561l-17 -10M1341 552l13 -4M734 441l10 -21M754 538l12 -20M1549 909l8 -9M1522 822l-16 -11M1565 848l9 -8M832 462l-3 -15M1445 574l-12 -6M604 625l-8 -7M1534 870l16 -3M816 427l6 -18M1007 397l-12 -6M487 908l13 -22M562 895l16 -7M1103 393l3 -21M1255 495l10 -13M1464 610l3 -18M1458 607l9 -10M927 395l-18 -18M482 826l-14 -17M1497 821l-9 -4M692 515l6 -13M1482 658l15 -21M1498 849l-15 -5M615 624l11 -4M1503 665l-18 -1M509 767l-15 -9M1459 731l-0 -19M1410 619l-10 -3M687 477l5 -25M695 545l-20 -11M1446 728l-4 -13M1197 489l-18 -14M1080 456l-3 -24M1506 806l-19 -7M1052 392l10 -9M552 770l-3 -11M1468 730l-5 -17M807 433l17 -4M727 562l5 -17" stroke="#c9dcf4" stroke-width="3" stroke-opacity=".8" fill="none" stroke-linecap="round"/><path d="M1021 915L1025.5 447L1029.5 447L1033 915Z" fill="#46bdb2"/><path d="M1027 450V915" stroke="#128a84" stroke-width="4.5"/><text x="1017" y="173" font-size="50" fill="#178a72" text-anchor="middle" font-weight="bold" font-family="'Liberation Serif',serif" textLength="694" lengthAdjust="spacingAndGlyphs" >Sales Performance Overview</text><text x="598" y="228" font-size="28" fill="#c41e58" text-anchor="start" font-weight="normal" font-family="'Liberation Serif',serif" textLength="766" lengthAdjust="spacingAndGlyphs" >This is auto-updated Graph. It's using time traces last 7 days</text><text x="598" y="264" font-size="28" fill="#c41e58" text-anchor="start" font-weight="normal" font-family="'Liberation Serif',serif" textLength="608" lengthAdjust="spacingAndGlyphs" >Initially the value is 104 when created on 04/29</text><text x="598" y="301" font-size="28" fill="#c41e58" text-anchor="start" font-weight="normal" font-family="'Liberation Serif',serif" textLength="676" lengthAdjust="spacingAndGlyphs" >Let's set up the schedule and see the number updates.</text><text x="1027" y="1000" font-size="52" fill="#5b72e2" text-anchor="middle" font-weight="normal" font-family="'Liberation Serif',serif" textLength="286" lengthAdjust="spacingAndGlyphs" >sum of Sales</text><text x="1024" y="1085" font-size="52" fill="#5b72e2" text-anchor="middle" font-weight="normal" font-family="'Liberation Serif',serif" textLength="76" lengthAdjust="spacingAndGlyphs" >251</text><rect x="1912" y="1078" width="68" height="66" rx="6" fill="#111"/><path d="M1930 1092H1966V1122H1944V1134H1930Z" fill="#fff"/><rect x="1946" y="1100" width="12" height="12" fill="#111"/></svg></div>
<div class="thumb" style="left:80.71px;top:846.77px;width:463.12px;height:262.05px;background:#acd8fd"><svg class="chart" style="left:-10.71px;top:-9.77px;filter:blur(0.9px);" width="485" height="283" viewBox="0 0 2084 1216"><text x="1053" y="160" font-size="40" fill="#12324f" text-anchor="middle" font-weight="bold" font-family="'Liberation Serif',serif" textLength="574" lengthAdjust="spacingAndGlyphs" >Price of Toyota Corolla by Year</text><path d="M262 290V990H1955" stroke="#6f9bd0" stroke-width="3" fill="none"/><path d="M248 345H262" stroke="#6f9bd0" stroke-width="3"/><text x="242" y="351" font-size="19" fill="#5f7897" text-anchor="end" font-weight="normal" font-family="'Liberation Serif',serif" >$20,000</text><path d="M248 662H262" stroke="#6f9bd0" stroke-width="3"/><text x="242" y="668" font-size="19" fill="#5f7897" text-anchor="end" font-weight="normal" font-family="'Liberation Serif',serif" >$10,000</text><path d="M248 980H262" stroke="#6f9bd0" stroke-width="3"/><text x="242" y="986" font-size="19" fill="#5f7897" text-anchor="end" font-weight="normal" font-family="'Liberation Serif',serif" >$0</text><rect x="477" y="868" width="498" height="110" fill="#0ab2ff"/><rect x="1242" y="285" width="505" height="693" fill="#e63946"/><path d="M1495 990V1002M727 990V1002" stroke="#6f9bd0" stroke-width="3"/><text x="727" y="1032" font-size="20" fill="#5f7897" text-anchor="middle" font-weight="normal" font-family="'Liberation Serif',serif" >2001</text><text x="1495" y="1032" font-size="20" fill="#5f7897" text-anchor="middle" font-weight="normal" font-family="'Liberation Serif',serif" >2024</text><text x="727" y="856" font-size="21" fill="#3b5878" text-anchor="middle" font-weight="normal" font-family="'Liberation Serif',serif" >$3,500</text><text x="1490" y="277" font-size="21" fill="#3b5878" text-anchor="middle" font-weight="bold" font-family="'Liberation Serif',serif" >$21,900</text><path d="M720 915L1240 726" stroke="#dda892" stroke-width="2.4" stroke-opacity=".85" fill="none"/><circle cx="962" cy="899" r="10" fill="#fff" fill-opacity=".9"/><path d="M955 893L972 905" stroke="#88a" stroke-width="3"/><text x="985" y="905" font-size="22" fill="#3b5878" font-family="'Liberation Serif',serif" font-style="italic" transform="rotate(-22 985 905)" textLength="240" lengthAdjust="spacingAndGlyphs">525% increase (price)</text></svg></div>
<div class="thumb" style="left:636.71px;top:867.77px;width:463.12px;height:262.05px;background:#acd8fd"><svg class="chart" style="left:-10.71px;top:-9.77px;filter:blur(0.9px);" width="485" height="283" viewBox="0 0 2084 1216"><text x="1040" y="158" font-size="36" fill="#5a5af4" text-anchor="middle" font-weight="bold" font-family="'Liberation Serif',serif" textLength="802" lengthAdjust="spacingAndGlyphs" >Microsoft Annual Revenue (Billions) by Year</text><path d="M222 265V955" stroke="#6f9bd0" stroke-width="3" fill="none"/><path d="M208 283H222" stroke="#6f9bd0" stroke-width="3"/><text x="203" y="289" font-size="18" fill="#44607f" text-anchor="end" font-weight="normal" font-family="'Liberation Serif',serif" >250.00</text><path d="M208 415H222" stroke="#6f9bd0" stroke-width="3"/><text x="203" y="421" font-size="18" fill="#44607f" text-anchor="end" font-weight="normal" font-family="'Liberation Serif',serif" >200.00</text><path d="M208 550H222" stroke="#6f9bd0" stroke-width="3"/><text x="203" y="556" font-size="18" fill="#44607f" text-anchor="end" font-weight="normal" font-family="'Liberation Serif',serif" >150.00</text><path d="M208 685H222" stroke="#6f9bd0" stroke-width="3"/><text x="203" y="691" font-size="18" fill="#44607f" text-anchor="end" font-weight="normal" font-family="'Liberation Serif',serif" >100.00</text><path d="M208 817H222" stroke="#6f9bd0" stroke-width="3"/><text x="203" y="823" font-size="18" fill="#44607f" text-anchor="end" font-weight="normal" font-family="'Liberation Serif',serif" >50.00</text><path d="M208 955H222" stroke="#6f9bd0" stroke-width="3"/><text x="203" y="961" font-size="18" fill="#44607f" text-anchor="end" font-weight="normal" font-family="'Liberation Serif',serif" >0.00</text><rect x="248.0" y="930" width="38" height="17" fill="#0d98ae"/><text x="267.0" y="922" font-size="15" fill="#23405e" text-anchor="middle" font-weight="bold" font-family="'Liberation Serif',serif" >6.0</text><text x="267.0" y="1004" font-size="19" fill="#23405e" text-anchor="middle" font-weight="bold" font-family="'Liberation Serif',serif" >1996</text><rect x="306.0" y="918" width="38" height="29" fill="#0d98ae"/><text x="325.0" y="910" font-size="15" fill="#23405e" text-anchor="middle" font-weight="bold" font-family="'Liberation Serif',serif" >8.7</text><rect x="363.9" y="905" width="38" height="42" fill="#0d98ae"/><text x="382.9" y="897" font-size="15" fill="#23405e" text-anchor="middle" font-weight="bold" font-family="'Liberation Serif',serif" >11.9</text><text x="382.9" y="1004" font-size="19" fill="#23405e" text-anchor="middle" font-weight="bold" font-family="'Liberation Serif',serif" >1998</text><rect x="421.9" y="892" width="38" height="55" fill="#0d98ae"/><text x="440.9" y="884" font-size="15" fill="#23405e" text-anchor="middle" font-weight="bold" font-family="'Liberation Serif',serif" >15.3</text><rect x="479.9" y="888" width="38" height="59" fill="#0d98ae"/><text x="498.9" y="880" font-size="15" fill="#23405e" text-anchor="middle" font-weight="bold" font-family="'Liberation Serif',serif" >19.7</text><text x="498.9" y="1004" font-size="19" fill="#23405e" text-anchor="middle" font-weight="bold" font-family="'Liberation Serif',serif" >2000</text><rect x="537.8" y="880" width="38" height="67" fill="#0d98ae"/><text x="556.8" y="872" font-size="15" fill="#23405e" text-anchor="middle" font-weight="bold" font-family="'Liberation Serif',serif" >23.0</text><rect x="595.8" y="872" width="38" height="75" fill="#0d98ae"/><text x="614.8" y="864" font-size="15" fill="#23405e" text-anchor="middle" font-weight="bold" font-family="'Liberation Serif',serif" >25.3</text><text x="614.8" y="1004" font-size="19" fill="#23405e" text-anchor="middle" font-weight="bold" font-family="'Liberation Serif',serif" >2002</text><rect x="653.8" y="862" width="38" height="85" fill="#0d98ae"/><text x="672.8" y="854" font-size="15" fill="#23405e" text-anchor="middle" font-weight="bold" font-family="'Liberation Serif',serif" >28.4</text><rect x="711.7" y="848" width="38" height="99" fill="#0d98ae"/><text x="730.7" y="840" font-size="15" fill="#23405e" text-anchor="middle" font-weight="bold" font-family="'Liberation Serif',serif" >32.2</text><text x="730.7" y="1004" font-size="19" fill="#23405e" text-anchor="middle" font-weight="bold" font-family="'Liberation Serif',serif" >2004</text><rect x="769.7" y="842" width="38" height="105" fill="#0d98ae"/><text x="788.7" y="834" font-size="15" fill="#23405e" text-anchor="middle" font-weight="bold" font-family="'Liberation Serif',serif" >36.8</text><rect x="827.6" y="830" width="38" height="117" fill="#0d98ae"/><text x="846.6" y="822" font-size="15" fill="#23405e" text-anchor="middle" font-weight="bold" font-family="'Liberation Serif',serif" >39.8</text><text x="846.6" y="1004" font-size="19" fill="#23405e" text-anchor="middle" font-weight="bold" font-family="'Liberation Serif',serif" >2006</text><rect x="885.6" y="797" width="38" height="150" fill="#0d98ae"/><text x="904.6" y="789" font-size="15" fill="#23405e" text-anchor="middle" font-weight="bold" font-family="'Liberation Serif',serif" >44.3</text><rect x="943.6" y="788" width="38" height="159" fill="#0d98ae"/><text x="962.6" y="780" font-size="15" fill="#23405e" text-anchor="middle" font-weight="bold" font-family="'Liberation Serif',serif" >51.1</text><text x="962.6" y="1004" font-size="19" fill="#23405e" text-anchor="middle" font-weight="bold" font-family="'Liberation Serif',serif" >2008</text><rect x="1001.5" y="797" width="38" height="150" fill="#0d98ae"/><text x="1020.5" y="789" font-size="15" fill="#23405e" text-anchor="middle" font-weight="bold" font-family="'Liberation Serif',serif" >60.4</text><rect x="1059.5" y="772" width="38" height="175" fill="#0d98ae"/><text x="1078.5" y="764" font-size="15" fill="#23405e" text-anchor="middle" font-weight="bold" font-family="'Liberation Serif',serif" >58.4</text><text x="1078.5" y="1004" font-size="19" fill="#23405e" text-anchor="middle" font-weight="bold" font-family="'Liberation Serif',serif" >2010</text><rect x="1117.5" y="758" width="38" height="189" fill="#0d98ae"/><text x="1136.5" y="750" font-size="15" fill="#23405e" text-anchor="middle" font-weight="bold" font-family="'Liberation Serif',serif" >62.5</text><rect x="1175.4" y="756" width="38" height="191" fill="#0d98ae"/><text x="1194.4" y="748" font-size="15" fill="#23405e" text-anchor="middle" font-weight="bold" font-family="'Liberation Serif',serif" >69.9</text><text x="1194.4" y="1004" font-size="19" fill="#23405e" text-anchor="middle" font-weight="bold" font-family="'Liberation Serif',serif" >2012</text><rect x="1233.4" y="730" width="38" height="217" fill="#0d98ae"/><text x="1252.4" y="722" font-size="15" fill="#23405e" text-anchor="middle" font-weight="bold" font-family="'Liberation Serif',serif" >73.7</text><rect x="1291.4" y="703" width="38" height="244" fill="#0d98ae"/><text x="1310.4" y="695" font-size="15" fill="#23405e" text-anchor="middle" font-weight="bold" font-family="'Liberation Serif',serif" >77.8</text><text x="1310.4" y="1004" font-size="19" fill="#23405e" text-anchor="middle" font-weight="bold" font-family="'Liberation Serif',serif" >2014</text><rect x="1349.3" y="716" width="38" height="231" fill="#0d98ae"/><text x="1368.3" y="708" font-size="15" fill="#23405e" text-anchor="middle" font-weight="bold" font-family="'Liberation Serif',serif" >86.8</text><rect x="1407.3" y="715" width="38" height="232" fill="#0d98ae"/><text x="1426.3" y="707" font-size="15" fill="#23405e" text-anchor="middle" font-weight="bold" font-family="'Liberation Serif',serif" >93.6</text><text x="1426.3" y="1004" font-size="19" fill="#23405e" text-anchor="middle" font-weight="bold" font-family="'Liberation Serif',serif" >2016</text><rect x="1465.2" y="683" width="38" height="264" fill="#0d98ae"/><text x="1484.2" y="675" font-size="15" fill="#23405e" text-anchor="middle" font-weight="bold" font-family="'Liberation Serif',serif" >91.2</text><rect x="1523.2" y="635" width="38" height="312" fill="#0d98ae"/><text x="1542.2" y="627" font-size="15" fill="#23405e" text-anchor="middle" font-weight="bold" font-family="'Liberation Serif',serif" >96.6</text><text x="1542.2" y="1004" font-size="19" fill="#23405e" text-anchor="middle" font-weight="bold" font-family="'Liberation Serif',serif" >2018</text><rect x="1581.2" y="592" width="38" height="355" fill="#0d98ae"/><text x="1600.2" y="584" font-size="15" fill="#23405e" text-anchor="middle" font-weight="bold" font-family="'Liberation Serif',serif" >110.4</text><rect x="1639.1" y="540" width="38" height="407" fill="#0d98ae"/><text x="1658.1" y="532" font-size="15" fill="#23405e" text-anchor="middle" font-weight="bold" font-family="'Liberation Serif',serif" >125.8</text><text x="1658.1" y="1004" font-size="19" fill="#23405e" text-anchor="middle" font-weight="bold" font-family="'Liberation Serif',serif" >2020</text><rect x="1697.1" y="458" width="38" height="489" fill="#0d98ae"/><text x="1716.1" y="450" font-size="15" fill="#23405e" text-anchor="middle" font-weight="bold" font-family="'Liberation Serif',serif" >143.0</text><rect x="1755.1" y="407" width="38" height="540" fill="#0d98ae"/><text x="1774.1" y="399" font-size="15" fill="#23405e" text-anchor="middle" font-weight="bold" font-family="'Liberation Serif',serif" >168.1</text><text x="1774.1" y="1004" font-size="19" fill="#23405e" text-anchor="middle" font-weight="bold" font-family="'Liberation Serif',serif" >2022</text><rect x="1813.0" y="340" width="38" height="607" fill="#0d98ae"/><text x="1832.0" y="332" font-size="15" fill="#23405e" text-anchor="middle" font-weight="bold" font-family="'Liberation Serif',serif" >198.3</text><rect x="1871.0" y="272" width="38" height="675" fill="#0d98ae"/><text x="1890.0" y="264" font-size="15" fill="#23405e" text-anchor="middle" font-weight="bold" font-family="'Liberation Serif',serif" >211.9</text><text x="1890.0" y="1004" font-size="19" fill="#23405e" text-anchor="middle" font-weight="bold" font-family="'Liberation Serif',serif" >2024</text><path d="M262 880L1885 225" stroke="#1b2838" stroke-width="2.6" fill="none"/><path d="M1420 640L1850 255" stroke="#6f88ab" stroke-width="2" fill="none" stroke-opacity=".75"/><text x="262" y="279" font-size="24" fill="#5a7290" text-anchor="start" font-weight="normal" font-family="'Liberation Serif',serif" textLength="404" lengthAdjust="spacingAndGlyphs" >Microsoft Total Revenue billion</text><text x="260" y="338" font-size="52" fill="#3c5068" text-anchor="start" font-weight="bold" font-family="'Liberation Serif',serif" textLength="168" lengthAdjust="spacingAndGlyphs" >$245B</text></svg></div>
<div class="thumb" style="left:1191.71px;top:867.77px;width:463.12px;height:262.05px;background:#fcfcfc"><svg class="chart" style="left:-10.71px;top:-9.77px;filter:blur(0.9px);" width="485" height="283" viewBox="0 0 2084 1216"><defs><linearGradient id="g7o" x1="0" y1="265" x2="0" y2="935" gradientUnits="userSpaceOnUse"><stop offset="0" stop-color="#ff9b05"/><stop offset=".14" stop-color="#f9ab42"/><stop offset=".38" stop-color="#f1c59c"/><stop offset=".56" stop-color="#edd6c6"/><stop offset=".8" stop-color="#eee0da"/><stop offset="1" stop-color="#f1e8ea"/></linearGradient><linearGradient id="g7r" x1="0" y1="690" x2="0" y2="935" gradientUnits="userSpaceOnUse"><stop offset="0" stop-color="#f4443c"/><stop offset=".3" stop-color="#ee7583"/><stop offset=".65" stop-color="#e9acc0"/><stop offset="1" stop-color="#e7d8ea"/></linearGradient><linearGradient id="g7g" x1="0" y1="790" x2="0" y2="935" gradientUnits="userSpaceOnUse"><stop offset="0" stop-color="#5a9a62"/><stop offset="1" stop-color="#b9a5c4"/></linearGradient><linearGradient id="g7p" x1="0" y1="830" x2="0" y2="935" gradientUnits="userSpaceOnUse"><stop offset="0" stop-color="#c9a0cf"/><stop offset="1" stop-color="#ead8ec"/></linearGradient></defs><text x="1043" y="113" font-size="38" fill="#333" text-anchor="middle" font-weight="bold" font-family="'Liberation Sans',sans-serif" textLength="668" lengthAdjust="spacingAndGlyphs" >Free, Premium, Essential by time</text><path d="M235 315H1900" stroke="#f5f5f5" stroke-width="3"/><path d="M235 380H1900" stroke="#f5f5f5" stroke-width="3"/><path d="M235 450H1900" stroke="#f5f5f5" stroke-width="3"/><path d="M235 520H1900" stroke="#f5f5f5" stroke-width="3"/><path d="M235 590H1900" stroke="#f5f5f5" stroke-width="3"/><path d="M235 655H1900" stroke="#f5f5f5" stroke-width="3"/><path d="M235 725H1900" stroke="#f5f5f5" stroke-width="3"/><path d="M235 797H1900" stroke="#f5f5f5" stroke-width="3"/><path d="M235 865H1900" stroke="#f5f5f5" stroke-width="3"/><path d="M215 245V938" stroke="#e2e2e2" stroke-width="3"/><text x="205" y="248" font-size="17" fill="#b5b5b5" text-anchor="end" font-weight="normal" font-family="'Liberation Sans',sans-serif" >100</text><text x="205" y="386" font-size="17" fill="#b5b5b5" text-anchor="end" font-weight="normal" font-family="'Liberation Sans',sans-serif" >80</text><text x="205" y="526" font-size="17" fill="#b5b5b5" text-anchor="end" font-weight="normal" font-family="'Liberation Sans',sans-serif" >60</text><text x="205" y="661" font-size="17" fill="#b5b5b5" text-anchor="end" font-weight="normal" font-family="'Liberation Sans',sans-serif" >40</text><text x="205" y="803" font-size="17" fill="#b5b5b5" text-anchor="end" font-weight="normal" font-family="'Liberation Sans',sans-serif" >20</text><text x="205" y="941" font-size="17" fill="#b5b5b5" text-anchor="end" font-weight="normal" font-family="'Liberation Sans',sans-serif" >0</text><path d="M250 935L250 935C259 927 283 914 300 890C317 866 331 849 345 800C359 751 368 669 378 620C388 571 392 530 400 530C408 530 412 568 420 620C428 672 436 773 445 820C454 867 453 866 470 880C487 894 513 890 540 895C567 900 598 908 620 905C642 902 647 904 660 880C673 856 675 802 690 770C705 738 725 704 745 700C765 696 785 714 800 745C815 776 817 842 830 870C843 898 857 904 870 900C883 896 890 882 900 850C910 818 917 755 925 720C933 685 936 655 942 655C948 655 952 685 960 720C968 755 972 818 985 850C998 882 1009 886 1030 895C1051 904 1078 906 1100 900C1122 894 1137 885 1150 860C1163 835 1165 786 1172 760C1179 734 1182 715 1190 715C1198 715 1203 738 1215 760C1227 782 1240 818 1255 840C1270 862 1285 887 1300 880C1315 873 1324 832 1340 800C1356 768 1372 729 1390 700C1408 671 1423 654 1440 640C1457 626 1472 618 1485 625C1498 632 1500 650 1510 680C1520 710 1527 758 1540 790C1553 822 1566 853 1580 860C1594 867 1602 870 1615 830C1628 790 1636 717 1650 640C1664 563 1677 464 1690 400C1703 336 1712 309 1720 285C1728 261 1731 262 1737 265C1743 268 1747 265 1755 300C1763 335 1770 388 1780 460C1790 532 1800 637 1810 700C1820 763 1827 792 1835 810C1843 828 1848 820 1853 800C1858 780 1858 763 1862 700C1866 637 1871 515 1875 450C1879 385 1883 360 1885 340L1885 935Z" fill="url(#g7o)" fill-opacity=".93"/><path d="M250 935L250 935C257 929 277 915 290 900C303 885 309 863 320 850C331 837 339 829 350 830C361 831 369 846 380 855C391 864 394 876 410 880C426 884 450 875 470 875C490 875 506 874 520 880C534 886 532 911 545 910C558 909 573 876 590 875C607 874 620 900 640 905C660 910 678 900 700 900C722 900 742 907 760 905C778 903 784 888 800 890C816 892 832 915 850 915C868 915 886 911 900 890C914 869 917 822 925 800C933 778 936 765 945 765C954 765 963 783 975 800C987 817 997 844 1010 860C1023 876 1034 894 1045 890C1056 886 1062 853 1070 840C1078 827 1081 820 1090 820C1099 820 1109 834 1120 840C1131 846 1136 855 1150 855C1164 855 1184 847 1200 840C1216 833 1227 817 1240 815C1253 813 1257 820 1270 830C1283 840 1294 866 1310 870C1326 874 1344 864 1360 850C1376 836 1387 810 1400 790C1413 770 1422 738 1432 738C1442 738 1445 770 1455 790C1465 810 1472 843 1485 850C1498 857 1513 832 1530 830C1547 828 1564 842 1580 840C1596 838 1607 834 1620 820C1633 806 1639 782 1650 760C1661 738 1671 707 1680 695C1689 683 1689 687 1700 695C1711 703 1726 719 1740 740C1754 761 1764 801 1780 810C1796 819 1811 801 1830 790C1849 779 1875 757 1885 750L1885 935Z" fill="url(#g7r)" fill-opacity=".8"/><path d="M660 935L660 935C664 925 674 897 680 880C686 863 689 840 695 840C701 840 704 863 712 880C720 897 735 925 740 935L740 935Z" fill="url(#g7g)" fill-opacity=".5"/><path d="M1155 935L1155 935C1158 920 1166 876 1172 850C1178 824 1184 790 1190 790C1196 790 1201 824 1208 850C1215 876 1226 920 1230 935L1230 935Z" fill="url(#g7g)" fill-opacity=".5"/><path d="M1400 935L1400 935C1404 920 1417 871 1425 850C1433 829 1437 816 1445 820C1453 824 1460 865 1470 870C1480 875 1491 861 1500 850C1509 839 1513 820 1520 810C1527 800 1531 791 1537 795C1543 799 1547 811 1555 830C1563 849 1572 881 1580 900C1588 919 1596 929 1600 935L1600 935Z" fill="url(#g7g)" fill-opacity=".5"/><path d="M250 935L250 935C259 931 282 922 300 915C318 908 332 895 350 895C368 895 378 913 400 915C422 917 448 905 470 905C492 905 498 919 520 915C542 911 568 885 590 885C612 885 620 916 640 915C660 914 682 880 700 880C718 880 724 913 740 915C756 917 772 890 790 890C808 890 820 910 840 915C860 920 881 919 900 915C919 911 929 895 945 895C961 895 969 914 990 915C1011 916 1040 908 1060 900C1080 892 1084 872 1100 870C1116 868 1134 894 1150 890C1166 886 1176 850 1190 850C1204 850 1214 881 1230 890C1246 899 1260 904 1280 900C1300 896 1318 868 1340 865C1362 862 1381 891 1400 885C1419 879 1429 829 1445 830C1461 831 1473 888 1490 890C1507 892 1522 838 1540 840C1558 842 1570 888 1590 900C1610 912 1630 903 1650 905C1670 907 1658 907 1700 910C1742 913 1852 918 1885 920L1885 935Z" fill="url(#g7p)" fill-opacity=".55"/><text x="248" y="978" font-size="19" fill="#c2c2c2" text-anchor="end" font-family="'Liberation Sans',sans-serif" transform="rotate(-35 248 978)">Jan 24</text><text x="393" y="978" font-size="19" fill="#c2c2c2" text-anchor="end" font-family="'Liberation Sans',sans-serif" transform="rotate(-35 393 978)">Feb 24</text><text x="538" y="978" font-size="19" fill="#c2c2c2" text-anchor="end" font-family="'Liberation Sans',sans-serif" transform="rotate(-35 538 978)">Mar 24</text><text x="690" y="978" font-size="19" fill="#c2c2c2" text-anchor="end" font-family="'Liberation Sans',sans-serif" transform="rotate(-35 690 978)">Apr 24</text><text x="836" y="978" font-size="19" fill="#c2c2c2" text-anchor="end" font-family="'Liberation Sans',sans-serif" transform="rotate(-35 836 978)">May 24</text><text x="980" y="978" font-size="19" fill="#c2c2c2" text-anchor="end" font-family="'Liberation Sans',sans-serif" transform="rotate(-35 980 978)">Jun 24</text><text x="1133" y="978" font-size="19" fill="#c2c2c2" text-anchor="end" font-family="'Liberation Sans',sans-serif" transform="rotate(-35 1133 978)">Jul 24</text><text x="1280" y="978" font-size="19" fill="#c2c2c2" text-anchor="end" font-family="'Liberation Sans',sans-serif" transform="rotate(-35 1280 978)">Aug 24</text><text x="1423" y="978" font-size="19" fill="#c2c2c2" text-anchor="end" font-family="'Liberation Sans',sans-serif" transform="rotate(-35 1423 978)">Sep 24</text><text x="1578" y="978" font-size="19" fill="#c2c2c2" text-anchor="end" font-family="'Liberation Sans',sans-serif" transform="rotate(-35 1578 978)">Oct 24</text><text x="1723" y="978" font-size="19" fill="#c2c2c2" text-anchor="end" font-family="'Liberation Sans',sans-serif" transform="rotate(-35 1723 978)">Nov 24</text><text x="1868" y="978" font-size="19" fill="#c2c2c2" text-anchor="end" font-family="'Liberation Sans',sans-serif" transform="rotate(-35 1868 978)">Dec 24</text></svg></div>
<div class="thumb" style="left:1747.71px;top:867.77px;width:463.12px;height:262.05px;background:#fdfdfd"><svg class="chart" style="left:-10.71px;top:-9.77px;filter:blur(0.9px);" width="485" height="283" viewBox="0 0 2084 1216"><text x="1043" y="139" font-size="41" fill="#222" text-anchor="middle" font-weight="bold" font-family="'Liberation Serif',serif" textLength="1200" lengthAdjust="spacingAndGlyphs" >Platform Evaluation: Flexibility, Ease of Use, and User Preference</text><path d="M182 210V925H1885" stroke="#d0d0d0" stroke-width="3.5" fill="none"/><path d="M170 210H182" stroke="#bbb" stroke-width="3"/><text x="164" y="217" font-size="20" fill="#777" text-anchor="end" font-weight="normal" font-family="'Liberation Serif',serif" >10</text><path d="M170 352H182" stroke="#bbb" stroke-width="3"/><text x="164" y="359" font-size="20" fill="#777" text-anchor="end" font-weight="normal" font-family="'Liberation Serif',serif" >8</text><path d="M170 495H182" stroke="#bbb" stroke-width="3"/><text x="164" y="502" font-size="20" fill="#777" text-anchor="end" font-weight="normal" font-family="'Liberation Serif',serif" >6</text><path d="M170 630H182" stroke="#bbb" stroke-width="3"/><text x="164" y="637" font-size="20" fill="#777" text-anchor="end" font-weight="normal" font-family="'Liberation Serif',serif" >4</text><path d="M170 770H182" stroke="#bbb" stroke-width="3"/><text x="164" y="777" font-size="20" fill="#777" text-anchor="end" font-weight="normal" font-family="'Liberation Serif',serif" >2</text><path d="M170 908H182" stroke="#bbb" stroke-width="3"/><text x="164" y="915" font-size="20" fill="#777" text-anchor="end" font-weight="normal" font-family="'Liberation Serif',serif" >0</text><path d="M190 925V937" stroke="#bbb" stroke-width="3"/><text x="190" y="964" font-size="20" fill="#777" text-anchor="middle" font-weight="normal" font-family="'Liberation Serif',serif" >0</text><path d="M530 925V937" stroke="#bbb" stroke-width="3"/><text x="530" y="964" font-size="20" fill="#777" text-anchor="middle" font-weight="normal" font-family="'Liberation Serif',serif" >2</text><path d="M870 925V937" stroke="#bbb" stroke-width="3"/><text x="870" y="964" font-size="20" fill="#777" text-anchor="middle" font-weight="normal" font-family="'Liberation Serif',serif" >4</text><path d="M1205 925V937" stroke="#bbb" stroke-width="3"/><text x="1205" y="964" font-size="20" fill="#777" text-anchor="middle" font-weight="normal" font-family="'Liberation Serif',serif" >6</text><path d="M1545 925V937" stroke="#bbb" stroke-width="3"/><text x="1545" y="964" font-size="20" fill="#777" text-anchor="middle" font-weight="normal" font-family="'Liberation Serif',serif" >8</text><path d="M1882 925V937" stroke="#bbb" stroke-width="3"/><text x="1882" y="964" font-size="20" fill="#777" text-anchor="middle" font-weight="normal" font-family="'Liberation Serif',serif" >10</text><text x="112" y="555" font-size="30" fill="#555" text-anchor="middle" font-weight="bold" font-family="'Liberation Mono',monospace" transform="rotate(-90 112 555)" textLength="216" lengthAdjust="spacingAndGlyphs">Ease of Use</text><text x="1055" y="1034" font-size="30" fill="#777" text-anchor="middle" font-weight="bold" font-family="'Liberation Mono',monospace" textLength="212" lengthAdjust="spacingAndGlyphs" >Flexibility</text><text x="275" y="297" font-size="30" fill="#444" text-anchor="start" font-weight="normal" font-family="'Liberation Serif',serif" textLength="262" lengthAdjust="spacingAndGlyphs" >Cookie Cutter Apps *</text><text x="290" y="341" font-size="19" fill="#3a3a3a" text-anchor="start" font-weight="normal" font-family="'Liberation Serif',serif" textLength="146" lengthAdjust="spacingAndGlyphs" >- Microsoft Money</text><text x="290" y="370" font-size="19" fill="#3a3a3a" text-anchor="start" font-weight="normal" font-family="'Liberation Serif',serif" textLength="130" lengthAdjust="spacingAndGlyphs" >- Quicken Simple</text><text x="290" y="394" font-size="19" fill="#3a3a3a" text-anchor="start" font-weight="normal" font-family="'Liberation Serif',serif" textLength="122" lengthAdjust="spacingAndGlyphs" >- Pocket Money</text><text x="290" y="421" font-size="19" fill="#3a3a3a" text-anchor="start" font-weight="normal" font-family="'Liberation Serif',serif" textLength="62" lengthAdjust="spacingAndGlyphs" >- Simple</text><text x="290" y="444" font-size="19" fill="#3a3a3a" text-anchor="start" font-weight="normal" font-family="'Liberation Serif',serif" textLength="146" lengthAdjust="spacingAndGlyphs" >- Quicken Simplifi</text><path d="M283 492L297 474L301 478L287 494Z" fill="#88a"/><text x="320" y="489" font-size="19" fill="#6a6af0" text-anchor="start" font-weight="normal" font-family="'Liberation Serif',serif" textLength="180" lengthAdjust="spacingAndGlyphs" >Click to view more</text><text x="1505" y="297" font-size="30" fill="#333" text-anchor="start" font-weight="normal" font-family="'Liberation Serif',serif" textLength="140" lengthAdjust="spacingAndGlyphs" >Flex Money</text><circle cx="1712" cy="282" r="56" fill="#e9faf5" stroke="#35b99e" stroke-width="5.5"/><path d="M1660 315L1682 249M1681 328L1703 236M1702 331L1724 233M1723 328L1745 236M1744 315L1766 249" stroke="#35b99e" stroke-width="4.5" fill="none" stroke-opacity=".8"/><path d="M1690 300q20 -30 8 -52M1722 322q14 -40 4 -76" stroke="#f4fffb" stroke-width="7" fill="none"/><text x="1508" y="371" font-size="20" fill="#2e2e2e" text-anchor="start" font-weight="normal" font-family="'Liberation Serif',serif" textLength="156" lengthAdjust="spacingAndGlyphs" >* Budget templates</text><text x="1508" y="399" font-size="20" fill="#2e2e2e" text-anchor="start" font-weight="normal" font-family="'Liberation Serif',serif" textLength="176" lengthAdjust="spacingAndGlyphs" >* Category templates</text><text x="1508" y="422" font-size="20" fill="#2e2e2e" text-anchor="start" font-weight="normal" font-family="'Liberation Serif',serif" textLength="92" lengthAdjust="spacingAndGlyphs" >* Portfolio</text><text x="1508" y="450" font-size="20" fill="#2e2e2e" text-anchor="start" font-weight="normal" font-family="'Liberation Serif',serif" textLength="204" lengthAdjust="spacingAndGlyphs" >* Tracking &amp; comparing</text><text x="1508" y="473" font-size="20" fill="#2e2e2e" text-anchor="start" font-weight="normal" font-family="'Liberation Serif',serif" textLength="200" lengthAdjust="spacingAndGlyphs" >* Forecasting &amp; planning</text><text x="1508" y="500" font-size="20" fill="#2e2e2e" text-anchor="start" font-weight="normal" font-family="'Liberation Serif',serif" textLength="184" lengthAdjust="spacingAndGlyphs" >* Business &amp; freelance</text><text x="1508" y="524" font-size="20" fill="#2e2e2e" text-anchor="start" font-weight="normal" font-family="'Liberation Serif',serif" textLength="196" lengthAdjust="spacingAndGlyphs" >* Sharing &amp; community</text><text x="1508" y="552" font-size="20" fill="#2e2e2e" text-anchor="start" font-weight="normal" font-family="'Liberation Serif',serif" textLength="56" lengthAdjust="spacingAndGlyphs" >* more..</text><text x="1690" y="783" font-size="27" fill="#223" text-anchor="start" font-weight="bold" font-family="'Liberation Serif',serif" textLength="170" lengthAdjust="spacingAndGlyphs" >Spreadsheets</text><ellipse cx="1885" cy="769" rx="14" ry="18" fill="#eefbf7" stroke="#2fb89a" stroke-width="6"/><text x="1698" y="824" font-size="19" fill="#334" text-anchor="start" font-weight="normal" font-family="'Liberation Serif',serif" textLength="172" lengthAdjust="spacingAndGlyphs" >- Google Spreadsheet</text><text x="1698" y="848" font-size="19" fill="#334" text-anchor="start" font-weight="normal" font-family="'Liberation Serif',serif" textLength="88" lengthAdjust="spacingAndGlyphs" >- MS Excel</text><text x="1698" y="875" font-size="19" fill="#334" text-anchor="start" font-weight="normal" font-family="'Liberation Serif',serif" textLength="136" lengthAdjust="spacingAndGlyphs" >- Apple Numbers</text></svg></div>
</div></div>
</body></html>
